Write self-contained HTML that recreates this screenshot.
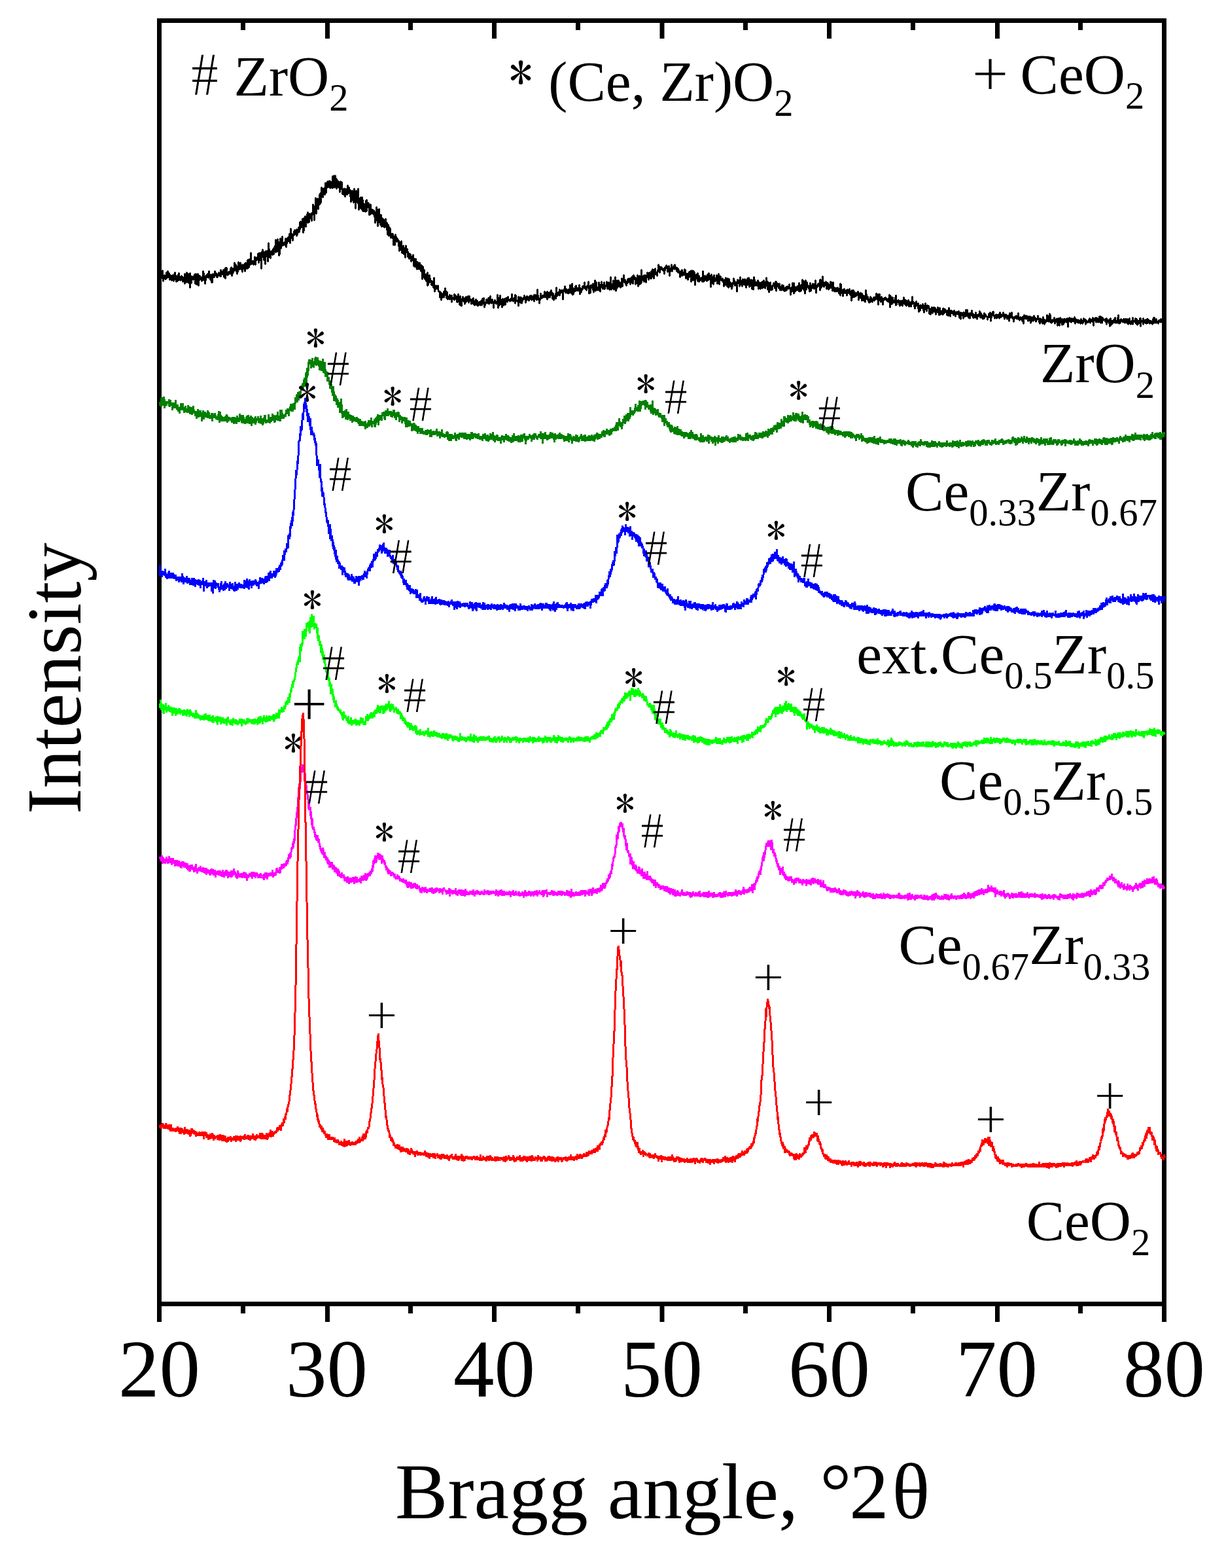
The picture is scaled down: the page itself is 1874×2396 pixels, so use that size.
<!DOCTYPE html>
<html lang="en"><head><meta charset="utf-8"><title>XRD patterns</title>
<style>
html,body{margin:0;padding:0;background:#fff;}
body{width:1874px;height:2396px;overflow:hidden;}
svg{display:block;}
text{font-family:"Liberation Serif","DejaVu Serif",serif;fill:#000;}
text.a{font-family:"IPAGothic","Liberation Serif",serif;}
text.p{font-family:"Noto Serif CJK SC","Liberation Serif",serif;}
.m text{fill:#fff;stroke:#000;stroke-width:1.4px;}
</style></head><body>
<svg width="1874" height="2396" viewBox="0 0 1874 2396">
<rect width="1874" height="2396" fill="#fff"/>
<defs><mask id="hm" maskUnits="userSpaceOnUse" x="0" y="0" width="1874" height="2396"><g class="m"><text transform="translate(499.01,589.25) scale(0.7140,0.7863)" font-size="100">#</text><text transform="translate(624.91,643.15) scale(0.7140,0.7863)" font-size="100">#</text><text transform="translate(1015.16,632.40) scale(0.7140,0.7863)" font-size="100">#</text><text transform="translate(1250.06,657.35) scale(0.7140,0.7863)" font-size="100">#</text><text transform="translate(502.36,750.35) scale(0.7140,0.7863)" font-size="100">#</text><text transform="translate(594.86,876.35) scale(0.7140,0.7863)" font-size="100">#</text><text transform="translate(985.26,862.95) scale(0.7140,0.7863)" font-size="100">#</text><text transform="translate(1223.06,882.15) scale(0.7140,0.7863)" font-size="100">#</text><text transform="translate(492.26,1039.35) scale(0.7140,0.7863)" font-size="100">#</text><text transform="translate(616.21,1088.35) scale(0.7140,0.7863)" font-size="100">#</text><text transform="translate(997.06,1106.25) scale(0.7140,0.7863)" font-size="100">#</text><text transform="translate(1226.16,1102.35) scale(0.7140,0.7863)" font-size="100">#</text><text transform="translate(466.21,1228.40) scale(0.7140,0.7863)" font-size="100">#</text><text transform="translate(607.21,1334.25) scale(0.7140,0.7863)" font-size="100">#</text><text transform="translate(979.16,1295.35) scale(0.7140,0.7863)" font-size="100">#</text><text transform="translate(1196.16,1300.50) scale(0.7140,0.7863)" font-size="100">#</text><text transform="translate(291.99,146.40) scale(0.8387,0.9450)" font-size="100">#</text></g></mask></defs>
<rect x="243.5" y="31.5" width="1536" height="1961" fill="none" stroke="#000" stroke-width="7"/>
<path d="M243.5,35v24M243.5,1996v24M371.5,35v11M371.5,1996v11M500.5,35v24M500.5,1996v24M627.5,35v11M627.5,1996v11M755.5,35v24M755.5,1996v24M883.5,35v11M883.5,1996v11M1012.0,35v24M1012.0,1996v24M1139.5,35v11M1139.5,1996v11M1267.5,35v24M1267.5,1996v24M1395.5,35v11M1395.5,1996v11M1524.5,35v24M1524.5,1996v24M1651.5,35v11M1651.5,1996v11M1779.5,35v24M1779.5,1996v24" stroke="#000" stroke-width="7" fill="none"/>
<path d="M244,422v6l1,-1v-9l1,2v-1l1,5v-3l1,4v-12l1,16v-8l1,4v-4l1,-1v4l1,2v-5l1,1v4l1,-7v-3l1,8v-4l1,-6v5l1,2v-3l1,-1v6l1,4v-5l1,-2v5l1,2v-5l1,4v2l1,-5v-3l1,5l1,4l1,-11v3l1,-1v-4l1,9v2l1,-6v9l1,-2v-1l1,-1v3l1,-10v8h1v-10l1,9v-2l1,4v-5l1,2v1l1,-5v6l1,-3v3l1,-4v7l1,-2v-4l1,4v2l1,3v-15l1,11v-2l1,-2v-4l1,10v-15l1,11l1,4v-13l1,6v-5l1,7v6l1,7v-22l1,5v6l1,4v-5l1,-5v4l1,-1v-1l1,-2v5l1,-1v-2h1v-5l1,4v10l1,-9v-6l1,16v-7l1,7v-9l1,-3v-4l1,12v6l1,-15l1,6v-6l1,2l1,2l1,4v-5l1,4v-6l1,3v-11l1,3v10l1,-6v5h1v7l1,-6v1l1,-5v-3h1v1l1,-3v2l1,2v2l1,-3v-7l1,8v1l1,4v-2l1,-6l1,12v-6l1,5v1l1,-13v5h1h1v-1l1,-1v-7l1,6l1,-3v4l1,-3v5h1v-2h1v-1l1,-4v2l1,-1v4l1,-2v2l1,-9v10l1,-7l1,2v-2l1,4v-4l1,-3v1l1,10v-6l1,-6v6l1,-8v16l1,-16v9h1v-9l1,8v3l1,-3v-1l1,3v-4l1,1l1,-2v3l1,-7v8l1,-7v-3l1,7v6l1,-4v-7l1,6v-6l1,2l1,-11v12l1,-6v1l1,-4l1,2v8l1,4v-8l1,5v-7l1,-8v10l1,1v-4l1,3v1l1,-7v-3l1,6v-1h1v6l1,3v-11l1,6h1v-1l1,1v-7l1,6v5l1,-6v-7l1,6v3l1,-5v-4l1,9v-13l1,8v-3l1,-6v12l1,-5v-7l1,8v-5l1,-13v11l1,4v2l1,-3v-1l1,2v-3l1,6v-5h1v1l1,-8v1l1,11v-6l1,-3v2l1,-4v4l1,-5l1,4v-9l1,14v-10l1,-5v6l1,-1v2l1,-6v7l1,16v-25l1,8v-4l1,2v-10l1,3v8l1,-3v8l1,-12v4l1,14v-19l1,-1v4h1v4l1,-4v-4l1,4v12l1,-7v-21l1,13v-4l1,8v-5l1,11v-6h1l1,-4v-1l1,1v5l1,-4v-5l1,8v-6l1,-1v-4l1,1v-1l1,-11v19l1,-3v-4l1,6v-3l1,-1v-15l1,11v4l1,10v-4l1,2v-18l1,-6v14l1,-3v4l1,-6v2l1,-14v14l1,-5v4h1v-3l1,1v-2l1,4l1,-2v-8l1,1v12l1,-10v5l1,-3v-6l1,-1v4h1v2l1,-11v3l1,2v9l1,-22v15l1,-6v5l1,-6v4l1,6v-7h1v-1l1,-6v6l1,-4v-4l1,3v-1l1,5v-5l1,-3v10l1,-3v1l1,-4v-4l1,-3v1l1,6l1,-5v-10l1,8v-9l1,9v-8l1,-1v7l1,-2v-9l1,13v8l1,-22v19l1,-15v-2l1,3v-8l1,16v-6l1,-7v2l1,-8v6l1,7v-16l1,7v3l1,4v1l1,-11v-2l1,6v-5l1,-1v8l1,3v-10l1,-3v4l1,-16l1,11v-7l1,20v-11l1,-5v-3l1,-15v19l1,5v-15l1,8v-1l1,-15v14l1,2v-8l1,-3v5l1,-16v9l1,5v-16l1,14v-11l1,-12v12l1,-7v7l1,-10v13l1,-13v6l1,-7v1l1,9v-7l1,-5v-6l1,15v-3l1,-8l1,3v-9h1l1,8v-1l1,-8v10h1v-5l1,6v-10l1,1v4l1,-4v5l1,-14v18l1,-15v4l1,-8v14l1,4v-1l1,-1v-16l1,6v2l1,-3v15l1,-6v-1l1,4v-9l1,1v1l1,9l1,2v4l1,-16v6l1,5l1,-10v6l1,11v1h1v-7l1,-1v9l1,-9v5l1,7v-11l1,-1v4l1,4l1,-2v3l1,-14v5l1,7v-6l1,-3v2l1,2v5l1,-5v8l1,10v-11l1,9v-6l1,-9v6l1,-4v12l1,-12v16l1,-5v-16l1,18l1,12v-21l1,12v-18l1,14v-12l1,14v-14l1,-5v20l1,12v-18l1,10v-5l1,-2v6l1,7v-17l1,11v-1l1,-10v19l1,2v-17l1,17v-10l1,-1v11l1,-8v1l1,8v-1l1,-2v-14l1,-1v17l1,-12v7l1,-7v6l1,-6l1,18v-16l1,6l1,9v-15l1,9v-1l1,5l1,-5v5l1,-4v6l1,-3v-3l1,4v3l1,12v-16l1,6v7l1,-21v3h1v11l1,15v-11l1,5v-8l1,-12v1l1,20v-4l1,-8v15l1,-15v16l1,2v-12l1,-1v12l1,-11l1,12v-11l1,12v-4l1,-2v-2l1,7v-12l1,10l1,7v-11l1,18v-11l1,-4v15l1,2v-10l1,-3v6l1,-4v3l1,11v-6h1v1l1,-1v6h1v-6l1,4v13l1,-10v-3l1,13v-11l1,-5v10l1,-7v2l1,6l1,-2v-3l1,2l1,10v-9l1,2v14l1,-13v11h1v-7l1,-6v11l1,1v6l1,-7v6l1,2v-12l1,13v-6l1,-3v2l1,12v-4l1,-14v10h1l1,-1v-4l1,12v-8l1,3h1v8l1,-1v-5l1,-1l1,3v8l1,-4v1l1,-2v1l1,3v-9l1,17v-11h1v12l1,-5v-1l1,-2v-4l1,9v5l1,-9v11l1,-11v3l1,6v-2l1,4v-6l1,-1v-3l1,4v1l1,-1v9l1,-4v-5l1,21v-15l1,-4v15l1,1v-10l1,-1v3l1,11l1,-6v-1l1,4v6l1,-11v5l1,-7v20l1,-1v-3l1,-4v4l1,-12v11l1,-6l1,3v2l1,4v1l1,-1v-5l1,7v-3l1,6v-8l1,-7v9l1,12v-7l1,-2v5h1v-1l1,-4v3l1,1v-3l1,-1v6l1,3h1h1v9l1,-8v3l1,9v-11l1,1v3l1,3v-4h1v-1l1,-4v9l1,-5v-5l1,6v-10l1,5v6l1,-3v7l1,-9v7l1,1v3l1,-1v-3h1v-1l1,5v-7l1,5v-2l1,1v-2l1,9v-10l1,4h1v1h1l1,2v-9l1,6v-5l1,6v-5l1,1v3l1,6v-3l1,-1v4l1,-8v-4l1,6v1l1,5v4l1,-13v14l1,-3v-3l1,-1v8l1,-9v-2l1,3v-6l1,7v-2l1,2l1,-5v9l1,-9v7l1,-9v8l1,-5l1,3v-2l1,-5v4l1,4v2l1,-8v-2l1,5v2l1,-1v-1l1,6v1l1,-1v-6l1,4v-1l1,-5v9l1,-3v-2l1,7v-2h1v1h1v-8l1,3v5l1,-6v2l1,2v4l1,-1v-1l1,-4v4l1,-2v-2l1,5l1,-3v-4l1,7v-5l1,3v-8l1,6v-4h1v-3l1,14v-8l1,1v4l1,-5v2l1,-6v5l1,-2v3l1,-1v-5l1,-2v3l1,6v-1h1v-9l1,-2v7l1,1v-1l1,4v-2l1,-4v1l1,4l1,-1v9l1,-9l1,1v-4l1,2v3l1,1v-3l1,2v-1l1,-7v-5l1,20v-5l1,-4v-6l1,2v9l1,-15v9l1,4v-2l1,2v-3l1,8v-12l1,-1v6l1,4v-6l1,4v-6l1,-2v9h1l1,-7v-3h1v3l1,3v-1l1,-7v6l1,-1h1l1,-1v3l1,-2l1,-3v4l1,-2v-8l1,10v-3l1,4v-4h1v2l1,-1v-2l1,-5v13l1,-12v4l1,4v-1l1,1l1,2v-3l1,9v-14l1,4v-3h1v3l1,5v-8h1v5l1,-1v5l1,-3l1,-3v-2l1,2v-2l1,-4v5l1,-1l1,-1v8l1,-3l1,-5v-2l1,3v2l1,-3v1l1,4v-2l1,-5v2l1,-1v3l1,-5v4l1,3v-3l1,-3v1l1,2v2l1,1v-4l1,-4v10l1,-4l1,-1v-5l1,3l1,2v3l1,-4v-12l1,11v2l1,3v-2l1,7v-4l1,-1v-1l1,-9v8l1,-1v-4l1,4v-1l1,-3v1l1,-1v2l1,-2v3l1,-9v6l1,-5v4l1,4v-2l1,-1v1l1,5v-12l1,10v-9l1,3v3l1,-4v4l1,2v-8l1,5l1,-2v-6l1,7v-3l1,9v-9l1,10v-9l1,10v-6h1v1h1v2l1,1v-8l1,-3v-6l1,9v4l1,-1v-1l1,-3v-1l1,2v2l1,-8v9l1,-8v5l1,-2l1,-2v-1l1,4v-4l1,14v-12l1,-1l1,-2l1,-5v8l1,2v-7l1,6v-5l1,4v2h1v-1l1,-4v6l1,-6v3l1,2v-5l1,-7v11l1,-7l1,-1v10l1,-6v-9l1,12v5l1,-1v-9l1,2v2l1,1v-3l1,-5v7h1v-8l1,4v2l1,-1v2l1,1l1,-1v-3l1,-5v8l1,3v3l1,-9l1,6l1,-4v1l1,-6v5l1,-5v2h1v-1l1,-7v5l1,5v-2l1,-1v3l1,1v1l1,-7v4l1,-2v-2l1,-6v9l1,-3v12l1,-9v-1h1v9l1,-12v3l1,-2v3h1l1,4v-10l1,6v7l1,-9v1l1,-3v-7l1,10v6l1,-7v-6l1,9v-1l1,4v-1l1,-4v2l1,-9v12l1,-4v4l1,2v-8l1,1v-3l1,-5v8l1,1v-5l1,7v-2l1,1v-5l1,-4v10h1v-3l1,-2v1h1l1,-1v-6l1,11v-10l1,5l1,2v-7l1,11v-1l1,-1v2l1,-9v-10l1,15v4l1,-1v-7l1,1v2l1,-9v5l1,-1v10l1,-10v9l1,-6v-12l1,21v-14l1,7v4l1,-10v-3l1,10v-5l1,-5l1,3v6l1,-6l1,4v4l1,-1l1,-1v-12l1,12v-4l1,-2v-4l1,-7v6l1,5v-5l1,1v1l1,6v-5l1,1v6l1,-7v4l1,-7v6l1,-1l1,-3v-3l1,3l1,6v-1l1,-9v8l1,-5v4l1,-4v-5l1,11v-3l1,-7v-3l1,6l1,-3v3l1,4v4l1,-8v7l1,-1v-7l1,-5v11l1,-2v8l1,-4v-3l1,4v-13l1,6v-3l1,9v-5l1,-16v19l1,-10v7l1,-6v3l1,2v-2l1,-5v10l1,-5v-2l1,3v-6l1,11v-8l1,1l1,-6v-2l1,6l1,1v4l1,-4v-7l1,7v1l1,1v-4l1,-7v11l1,-9v5l1,-10v11l1,-8v9l1,2v-3l1,-11v1l1,-2v9l1,-2v-1h1v1h1v4l1,-8v1l1,-10v2l1,3v-3l1,6v4l1,-7v-1h1v3l1,-3l1,4v-1l1,1v1l1,-3l1,8v-9l1,4v-3l1,-3l1,-2v4l1,-3v1l1,8v-7l1,6v-3l1,2v-7l1,4v11l1,-8v1l1,-4v3l1,-9v1l1,7v2l1,-6v1h1v1l1,-5l1,6v-7l1,3v2l1,-1l1,6v-3l1,2v-4l1,1v6h1v-4l1,4h1v7l1,-9v4h1v-2l1,-4v9l1,-2v-1h1l1,-3v5l1,-9v8l1,-7v6l1,7v-7h1v4l1,-3v-1h1v9l1,-4l1,-8v8l1,-8l1,8v-7l1,14v-17l1,13v-1l1,-12v7l1,8v-2l1,-12v5l1,-3v1l1,2v16l1,-13v-1l1,-1v5h1v-7l1,11v-12l1,4v3l1,6v-9l1,3v4l1,-3v3l1,-1v-3l1,2v1l1,-4v7l1,-16v5l1,11l1,-5v-4l1,4v3l1,-7v6l1,-4l1,1v5l1,-10v4l1,4v-8l1,-2v10l1,-2v-1l1,1v-4l1,17v-17l1,2v-4l1,4v9l1,-7v3l1,-5v11l1,-8v-6l1,9v-5l1,5v-2h1l1,-4v-3l1,13v-7l1,2l1,-3v-7l1,4v12l1,-10v2l1,-4v4l1,1v1h1v-2l1,-1v4l1,2v-2l1,8v-6h1v-4l1,8v-9l1,-2v3l1,7v-8l1,11v-6l1,-6v6l1,8v-11l1,-2v8l1,3v-1l1,-5v2h1v4l1,4l1,-9v6l1,-7v3l1,-9v4l1,5v-6l1,8v-6l1,2l1,-1v2l1,4v8l1,-18v6l1,-2v-3l1,5v-5l1,4v5l1,-14v10l1,1v-6l1,7v-2l1,-2v6l1,-11v9l1,-4v-3l1,3l1,4v-9l1,5l1,-1v9l1,-12v9l1,-11v8l1,-2v3l1,-5v-5l1,2v12l1,-5v-4l1,7v-7h1v-2l1,10v4l1,-13v6l1,3v5l1,-19v10l1,3v-9l1,8v-1l1,2v-5l1,4v-4l1,5v-2l1,-2v-4l1,13v-3l1,-1v-6l1,1l1,9v-4l1,-6v3l1,1v-2l1,-3v10l1,-3v-3l1,-6v4l1,3v4l1,-6v7l1,-4v-4l1,-8v7l1,-2v6l1,2v5l1,-6v-5l1,15v-8l1,-3l1,-4v8l1,-1v5l1,-2l1,1v-6l1,-1v2l1,-5l1,5v-1l1,4v-2l1,-8v8l1,6v-14l1,5v3l1,-5v3l1,2v-5l1,6v1l1,-7v5l1,5v-5l1,2v1l1,-4v6l1,-3v-5l1,6v1h1v-6l1,5v3l1,-4v4h1v-5l1,3v-4l1,5v-4l1,-2l1,2l1,2l1,-7v2l1,5l1,-1v10l1,-6v-5l1,3v3l1,-3v-10l1,8v-1l1,9v-16l1,14v-7l1,4v-5l1,2v4l1,-5v4l1,-4v-2l1,1v-1l1,1v6l1,-10v-2l1,7v6l1,-2v1h1v-9l1,4l1,-12v9l1,5v-9l1,-3v4l1,6v4l1,5v-4l1,-13v-3l1,10v4l1,-11v4h1v2l1,-1v3l1,2v-4l1,3v5l1,-13l1,7v5l1,-7v4l1,-6v5l1,-7v6l1,-2l1,4v-1l1,-7v6l1,-11l1,11v8l1,-10l1,-2v3l1,-5v4l1,-4l1,2v-1l1,-7v16l1,-8v-8l1,12v-5l1,2v1l1,-9v-6l1,12v1l1,3v-7l1,2v3l1,-3l1,2v-5l1,11v-10l1,4v-1l1,-2v5l1,3v2l1,-4l1,-4v6l1,-10v6l1,3l1,-7v-1l1,13v-9l1,-4v2l1,6v5l1,-5v6l1,-4v1l1,3v-5l1,3v-3h1v5l1,-6v4l1,-3v3l1,-2v7l1,-4l1,7v-18l1,7v-6l1,11v2l1,1v-2l1,-4v10l1,-5l1,-2v-4l1,6v-3h1v3h1v-4l1,8v-8l1,-1v6l1,-1l1,-2v2l1,-2v-4l1,9v-6l1,3v4l1,-3v11l1,-16v2l1,4v5l1,-6v-5l1,10v-8l1,3v5l1,-6v1l1,4v-3l1,2v-4l1,3l1,-3v-2l1,13v-5l1,2v-7l1,4v-1l1,-4v8l1,-5v2l1,-4v11l1,-3v-1l1,-4v1l1,7v-6l1,3v-1l1,-4v10l1,-18v13l1,-1v-6l1,8l1,-1v-3l1,4v3l1,-3v5l1,-3l1,2v-8l1,1l1,4l1,3v-1l1,-4v1l1,-2v-1h1v5l1,-5l1,3v-3l1,1v-7l1,9v-2l1,2l1,-8v16l1,-9v1l1,-8v9h1v-3l1,2v4l1,-6v-2l1,8v-4l1,-1v9l1,-8v-1l1,1v-2l1,2l1,-3l1,1v3h1v1l1,1v-2l1,2v-4h1v5l1,-11v9l1,10v-18l1,12v-11l1,7v5h1v-9l1,-1l1,8v-4l1,1v2h1v1l1,-1v-7l1,12v-15l1,14v-6l1,1v-1l1,1v1l1,-1v-2l1,7l1,-5v7l1,-6v-2l1,5v1l1,-6v2l1,6v-8h1v4l1,-5v-4l1,3v7l1,1l1,-1v-6l1,7v2l1,-7v6l1,-4v2h1v-6l1,10v-8l1,3v-2l1,4l1,-2v5l1,-4v-2l1,-9v10h1l1,-2l1,5v2l1,3v-3l1,-6v3l1,-5v7l1,-1v-3l1,2v-1l1,-1v7l1,6v-7l1,1v-3l1,-1v8l1,-8v3l1,-2v3l1,-2v2l1,-6v4l1,6v-8l1,1v10l1,-6v2l1,-10v8l1,-5l1,6v3l1,-9l1,2v1l1,2v-4l1,12v-5l1,-3l1,9l1,-9v3l1,3v-8l1,2v7l1,-7v1l1,-3v2l1,5v-5l1,-1v2l1,8v-5l1,-2v2l1,1v-1l1,-6v7l1,-1v3l1,-7v10l1,-7v-4l1,10v-6l1,3l1,-2v4h1v1h1v-9h1v6l1,-4v5l1,-1v-5l1,1l1,1v2l1,3v2l1,-7v1l1,7v-2l1,-2v-8l1,4v4l1,-3v8l1,-5l1,-4l1,1v1l1,1v2l1,-1v3l1,-7v4l1,1l1,4v-6l1,2v-3l1,3l1,-3v1l1,1v2l1,-5v6l1,-3v7l1,-2v-5l1,-1v10l1,-6v1l1,-4v1l1,3l1,-5v9l1,-5v-4l1,6v-3l1,3v-4l1,3v-9l1,9v-6l1,5v-8l1,8v2h1v2l1,-7l1,8l1,-8v1l1,1v1l1,1v-8l1,9v-2l1,-2v6l1,-4v4l1,-2v-2l1,4v-1l1,-3v-4l1,3v4l1,-3v6l1,-4h1v-3l1,2v-2l1,-5v2l1,8v-4l1,1v-4l1,3v4l1,-2v-2l1,6l1,-5l1,4v-8l1,6v-5l1,1v1l1,2l1,1v-1l1,4v1l1,-3l1,-3v-3l1,5v-1l1,2v-8l1,13v-11l1,3v3l1,-7v3l1,-5v2l1,-2v6l1,1v-2l1,5l1,-4v-1h1v-1l1,6l1,-4v-1h1v3l1,-4v3l1,-2v5l1,-1v-8l1,4v3l1,-4v4l1,-1l1,-2v1l1,1v-6l1,2l1,8v-4h1v-1l1,-2l1,5v-4l1,6v-4h1v-1h1v1l1,4v3l1,-12v6l1,1v-4l1,1h1v-5l1,9v-2h1l1,1v6l1,-6v2l1,-4v3l1,-2l1,-2v1l1,3v1l1,-1v-3l1,3v-8l1,10v-3l1,1v3l1,-5v4l1,-3v2l1,-2v2l1,3v-6h1v1l1,2v7l1,-9v-4l1,4l1,-3v3l1,2v-3l1,1v-3l1,5v-2l1,5l1,-7v3l1,1v2l1,-6v4l1,6v-6l1,1v-1l1,-3v6l1,-2l1,2l1,-8v7l1,-3v2l1,-2v-1l1,6v-3l1,-1l1,1l1,-6v4l1,2l1,2v2l1,-6v8l1,-5v1l1,-3l1,5v-4h1v6l1,-1v-9l1,4v1l1,5v1l1,-6v1l1,1v1l1,-4v3l1,-4v-6l1,4v4l1,2v-8l1,1v5l1,-10v12l1,1v-11l1,10v-3l1,5v-3l1,-2v1l1,2l1,-2l1,-4v5l1,-1v5l1,-5l1,-2v4l1,-3v-1l1,6v4l1,-9v-2l1,6v-5l1,10v-8l1,3v-7l1,4v3l1,-2v-3l1,9v-5l1,-3v-1l1,1v7l1,-8v2l1,-2v5l1,-4v3h1v-4l1,4l1,2v-7l1,5v8l1,-11v3l1,-6v5l1,-3v4l1,-2v-3l1,6v-3l1,-3v3l1,-2v3l1,-1v-1l1,3v-5l1,6v-8l1,10v-4l1,-1v-2l1,4v-2h1v3l1,-4v1l1,2v2l1,-4v1h1v2l1,2l1,-7v2l1,1v1l1,3v-4h1v3l1,-7v2l1,1v1l1,1v-3l1,7v-7l1,1v4l1,-1v-2l1,1v1l1,-2v2l1,-4v2l1,-4v2l1,-1v6l1,-4v2l1,-3v2l1,-1v-1l1,4v-7l1,7v5l1,-9v2l1,-4l1,4v-5l1,7v-3l1,-4v1h1v3l1,3v-3l1,-2v1l1,2v-7l1,9v-1l1,-8v10l1,-8v4l1,4v-8h1l1,2v2l1,-1h1v1l1,-2v4l1,-1v-3l1,8v-9l1,6v-4l1,3l1,1l1,2v-6l1,10v-7l1,-3v-2l1,10v-2l1,-4v2l1,2v-4l1,-1v1l1,2v-2l1,-3v5l1,-7v3l1,5v-2h1v-1l1,3v-3l1,-5v6l1,-10v3l1,10v-1l1,-4v1h1v3l1,-5v-1l1,1v2l1,1l1,-2v3l1,-5v3l1,-2v-1l1,6v-4l1,-2v3l1,-3v5h1v1l1,-6v3l1,5v-6l1,4v1l1,-8v7l1,-1l1,3v-4l1,-1v2l1,-3v2l1,-6v10l1,-6v3l1,-1v-1l1,1v-1l1,-4v3l1,5v-7h1l1,9v-2l1,1v-5l1,1v2h1v-3l1,-4v2l1,-2v12l1,-9v1l1,1l1,1v-3l1,-3v9l1,-6h1l1,2v2l1,-5v4l1,-3v5l1,-7v4l1,2v-6l1,4l1,-2v1l1,4v-2l1,-2h1v2l1,2v-1h1v2l1,-8l1,-2v8l1,-8v6l1,2v-6l1,2v1l1,3v-6l1,5l1,-1l1,3v-3l1,-1v-1l1,2v-2l1,2v-1l1,2v-5l1,2v1h1v2l1,-2v3l1,1v-3l1,-5l1,-1" transform="translate(0.5,0.5)" fill="none" stroke="#000000" stroke-width="2.5" stroke-linejoin="round" stroke-miterlimit="3" shape-rendering="crispEdges"/>
<path d="M244,613v5l1,-2l1,4v-11l1,2v-3l1,5v5l1,-4v2l1,-9v8l1,-4v11l1,-4v1l1,-4v3h1v-4h1v1l1,-1l1,1v-1l1,5v-8l1,9v-5h1v-3l1,5l1,1v-2l1,2v7l1,-5v-4l1,6l1,-4v3l1,1v-4l1,-6v6l1,4v-3l1,3v2l1,-5v6l1,2v-2l1,1l1,4v-7l1,-1v3l1,-6v-2l1,3v4l1,1v-7l1,-1v6h1v1l1,3v2l1,-3v1l1,-6l1,5v2h1l1,1h1v-9l1,4v4l1,1v-7l1,9v-5l1,1v2l1,2v-8l1,9v-3l1,-3v2l1,-7v6l1,3v-3l1,2l1,1v4l1,-4v-1l1,4v5l1,-8v4l1,-8v10l1,-2v2l1,-4v-4l1,7l1,-6v-1l1,6l1,-2v10l1,-11l1,2v-5l1,2v9l1,-6v-1l1,-2v6h1v-1l1,-2v2l1,1v-4l1,5v-9l1,2v4h1v-3l1,5v2l1,-1v-1l1,2v-1l1,-5v3l1,7v-10l1,4v-1l1,-2l1,3v1h1v-5l1,3l1,2v2h1l1,1v-1l1,-5v3l1,-2v-6l1,3v12l1,-10v-4l1,6v6l1,-5v2l1,-2v1l1,4v-1l1,-3v3l1,1v-4l1,1l1,-2v5l1,-4v-2l1,-2v1l1,9v-8l1,6v-3l1,2v1l1,-4l1,1v1h1l1,-1v3l1,2v-2l1,-4v4l1,-1v1l1,4v-6h1v-2l1,2v-1l1,6v-4l1,-2v7l1,-10v7h1v-1l1,-2l1,-1v4l1,-10v6l1,2v-2l1,-4v5l1,-2v6l1,1v-4l1,-6l1,5v-2l1,4v3l1,-4v5l1,-1v-1l1,-6v3l1,-5v8l1,-3v4l1,-3v-7l1,8v1l1,2v-8h1v3l1,-5v1l1,1v11l1,-10v-1l1,2v1l1,4v-1l1,-1v-2l1,1v-3l1,-2v10l1,-7v4l1,-4v1h1l1,-4v4l1,2v1l1,-1v2l1,-3l1,-6v4l1,6v-4l1,2v-3l1,-1v8l1,-5v3l1,-3v-2l1,-6v7l1,-5v-2l1,10v-1h1v-2h1v1l1,-1l1,2v-10l1,10v-5l1,5v1l1,-7v5h1l1,-5v1l1,2v-8l1,6v1l1,-2v-3l1,3v6l1,-1v-4l1,-3v3h1v-4l1,2v3l1,1v-11l1,11v-3l1,3v-4l1,1v4l1,-15v15l1,-5v-7l1,-3v10l1,-5v6l1,-2v-2l1,4v-3l1,1l1,-2l1,1l1,-8v4h1v-2l1,-4v3l1,3v-1l1,4v-8h1v-1h1v-2l1,-5v7l1,2l1,-9v2l1,7v-8l1,1v-3l1,4v1l1,2v-8l1,-1v-7l1,2v-2l1,1v-5l1,9v-10l1,4v-7l1,6v4l1,-11l1,4v-3h1l1,-6v1l1,-3v-2l1,-3v8l1,-9v5l1,-2v-8l1,8v-11l1,6v2l1,-12v-3l1,-2v15l1,-15v-6l1,9v-6l1,-1v-10l1,-5v4h1v-4l1,2l1,9v-1l1,-1v-7l1,-4v8l1,2l1,2v-6l1,-1v2l1,-7v1l1,7v-10l1,6v5l1,-3v1l1,-8v5l1,-1v5h1v-2l1,10v-7l1,-4v-1l1,3v-2l1,12v-5l1,-4v-1l1,-6v9l1,9v1l1,-7v2l1,-9v15l1,-4v9l1,-6l1,4l1,-3v12l1,-4v1l1,1v-2l1,6l1,9v-7l1,3v-2l1,2v2l1,8v-4l1,9v-7l1,1v-6l1,13v7l1,-8v8l1,-1v-5l1,7v-6l1,4v7l1,-3v-4l1,11v-9l1,5l1,1v-1l1,-2v14l1,-10v1l1,-10l1,15v5l1,1v6l1,-1v-6l1,-1v6l1,-5v1l1,-3v4l1,7v-6l1,2v-9l1,13v-3l1,4v-4l1,-3v-3l1,8v-1l1,-3v4l1,-2v5l1,-4v-2l1,4v-1l1,6v-5l1,-3v4h1v2h1v-4l1,4l1,-1v-2l1,2v2l1,-5v2l1,1v2l1,2v-5l1,5v1l1,3v-5l1,-2v-1l1,6v2l1,-5v3l1,2l1,-3v3l1,-2v-2l1,4l1,-4v4l1,5v-10l1,7l1,-2v1l1,-2v4l1,-6v2l1,-5l1,7v-1l1,-6v2l1,3v-3l1,-2v-4l1,8v4l1,-7v2h1v-2h1l1,-3v9l1,1v-8l1,4v-8l1,2v3l1,-7l1,4v-7l1,14v-7l1,-1v1l1,-6l1,5l1,-3v-1l1,-1v6l1,-10v2l1,1l1,-4l1,1v7l1,2v-5l1,-7v2l1,2l1,-1v3l1,-9v5l1,2v2l1,-2v-1h1v-2l1,2v-1l1,-1v6h1v-5l1,4v2l1,-3v-1l1,2v-7h1v7h1v3l1,-6v6h1v3l1,-9l1,2v2h1v-5l1,3v-2l1,12v-7l1,1v-2l1,2v3l1,-3v1l1,7v-3l1,-2v-1l1,1v-2l1,4v-3l1,-1v3l1,-2v5l1,7v-10l1,-2v8l1,-2v6l1,-4v2l1,-4v-2l1,4v3l1,-4v-2l1,3l1,1v1l1,1v7l1,-6v-2l1,-1v6l1,-7v9l1,-4v-4l1,5l1,4v-7l1,4l1,4v-6l1,1v8l1,-4v-5l1,6v-3l1,1v-1l1,6v-4l1,2l1,-4v2l1,4v-6l1,5v-1l1,2v1h1v-2l1,1l1,-3v1l1,4v-4l1,4l1,-6v5l1,-4v3l1,-3v3h1v-3l1,8v-3l1,-6v5l1,-2v6l1,-5v1l1,-2v3l1,-3v-1l1,1l1,3v-1l1,-2l1,-1v3l1,-6v5l1,4v-5h1v2l1,-2h1v4l1,-3v7l1,-4v-1l1,-2v1l1,-5v7l1,2v-1l1,-2v3h1v-2l1,1v2l1,-1v-2l1,1l1,-4v5l1,-1v-5l1,1v9l1,-4v3l1,-4v7l1,-4v-4l1,3v3l1,2v-4l1,-3v-1l1,4l1,1v-2l1,-1v2h1v-1l1,-5v3l1,6v-5l1,6v-5l1,-2v2l1,1v-4l1,3v-2l1,5v-5l1,1v-4h1v3l1,-2v2l1,1v1l1,-5v3l1,2v-3l1,-2v2l1,5v-4l1,4v-5l1,4v-6l1,2v1l1,5l1,-4v2l1,-4l1,4v1l1,-1l1,-4v7l1,-5v3l1,-2v-6h1v1l1,4v3l1,-4v3l1,-5v1h1v2l1,-3v3l1,2v-3l1,-1v1l1,-1l1,5v-1l1,-5v3l1,2v1h1v1l1,-3h1l1,3l1,2v-2l1,-4v-2h1v1l1,4v-5l1,-1v4l1,3l1,2v-4l1,-2v1l1,-2v1l1,5v2l1,-2v-2l1,-2v2l1,-6v7h1v-2h1v-4l1,6l1,-9v6l1,2v3l1,-6l1,2v6l1,-4v-2l1,-1v2l1,-4v6l1,-5v4l1,1v1l1,-3l1,1v-1l1,3v-3l1,5v2l1,-8v2l1,-4v5l1,-1v-1l1,-2v2l1,5v-1l1,-3v-2l1,2v-2l1,-4v3l1,4v-1h1v-3l1,-1v6l1,-3l1,4v-5l1,4v-2l1,-1l1,6v-3l1,-3v1l1,-4v8l1,-1v-4l1,2v-8l1,9v-1h1v1l1,-1v-4h1v2l1,3v-2l1,-2v2l1,-4v8l1,-4v-3l1,3v2l1,-2v4l1,-9v8l1,-4v2l1,2l1,-8l1,2v-3l1,-1v5l1,3v-4l1,2v8l1,-8v-2h1v2l1,-2v2l1,-1v2l1,-2v-1l1,-2v-1l1,3v-1l1,2v-1l1,-1v7l1,-5v2l1,-5v5h1v-2l1,-5v7l1,-5v-2h1v4l1,-1l1,3v-1l1,2v-2l1,-1l1,-2v-1l1,1v2l1,-3v2l1,3v-9l1,4l1,2v-3l1,2v11l1,-13v3l1,1v-1l1,-3v6l1,-8v3l1,2v-1l1,4v-4l1,6v-5l1,4v-3l1,-1l1,3v-4l1,1v-2l1,-3l1,7l1,-5v5l1,-2v-4l1,2v4l1,1v-1l1,6v-7l1,-2v-2l1,7v-4h1v-1h1v1l1,2h1v1l1,-3v-2l1,3v-5l1,7v-1l1,1v-5l1,2v1l1,-2l1,2v1l1,-2v4l1,3l1,-4v-2h1v5l1,-3h1v-2l1,5v-4l1,1v-6l1,11v-4l1,-2v-2l1,1v-3l1,6v-4l1,4l1,6v-7h1v1l1,-3v1l1,2v2l1,-1v-3l1,4v-4l1,-3v8l1,-4v-1l1,-2v2l1,5l1,-4v5l1,-5v3l1,-3v-1h1l1,-4v2l1,4v2l1,-3l1,-2v5h1v-6l1,3v-1l1,-3v8l1,-1v-2l1,2v-4l1,2v2l1,-4v2l1,-3v4l1,1v-6l1,1v2l1,3v-4l1,-1v1l1,3v-6l1,3l1,4v-4l1,-1v3l1,-5v8l1,-4v-2l1,1v-1l1,-1v-2l1,2v-4l1,8v-7l1,1l1,4v-3l1,4v-5l1,1l1,-1v3h1l1,-7v4l1,-4l1,-2v2l1,4v2h1v-7l1,1v2l1,-1h1v-5l1,4v2l1,-1v-1l1,-2v1l1,5v-3l1,1v1l1,-7v4l1,-1v3l1,-5l1,-2v2l1,-1l1,1v-2l1,-2v1l1,-1v2l1,2v-5l1,-6v8l1,-2v-3l1,1v6l1,-10l1,3v-9l1,7l1,4v-1l1,-2v-2h1v8l1,-8v3l1,-8v4l1,-1v-1l1,-7v5l1,5v-3l1,-5v5l1,-9v7l1,-1v-4l1,-1v-3l1,4v6l1,-3v-2l1,1v-6l1,3v-12l1,8v-1l1,1v-1l1,2v-4l1,5v-5l1,3v-3l1,2l1,-2v-4l1,2v-8l1,7v1l1,-3l1,4h1v-7h1v4h1v-11l1,14v-4l1,-9v9l1,-7v1l1,-3l1,2v1l1,-4v4l1,-3v1l1,-1v1l1,9v-12l1,1v5l1,-1v-2l1,6v-6l1,5l1,4v-2l1,-2v1l1,1v2l1,-5v8l1,-1v4l1,-4v1l1,-14v10l1,9v-5l1,-3v4l1,-1v1l1,-3v5l1,3v-3l1,1v-4l1,5v-3l1,-3v4l1,1v3l1,2v-3l1,-1v4l1,-4v2l1,1v1l1,-1l1,8v-2l1,-3v-3l1,3v4l1,-7v14l1,-7v1l1,2v-5l1,5l1,3v-4l1,5v2l1,-1v-2h1v-2l1,4v3l1,4v-1l1,3v-7l1,1v-3l1,3v-1l1,3v3l1,-2l1,3v2l1,-1v-7l1,9v-5l1,-3l1,3v4l1,-9v11l1,-3v1l1,-5v2l1,-1v6l1,-5v4l1,-3v-2l1,6v1l1,1v-5l1,2v2l1,-1l1,5v-7l1,4v-4l1,5v-4l1,-1v4l1,-1v-1h1v-1l1,3l1,4v-6l1,5v-2l1,-5l1,8v-8l1,6v-9l1,8v-1h1v-4l1,3v5l1,-1v-2h1v-1l1,6v-4l1,3v-6h1v7l1,-5v1l1,2v1h1l1,2v-3l1,2v-2h1v5l1,-6v-5l1,6v1l1,4v-6l1,-2v4l1,4l1,-5v4l1,-2l1,-3v2l1,-2v2l1,-2v5l1,-4v1l1,-5v3l1,8v-7l1,-3v4h1v-1l1,1v-1l1,4v-5l1,3v2l1,-4v7l1,-5l1,-2v4l1,-6v5l1,7v-7l1,1v-4l1,4v-4l1,1v1l1,5l1,-6v-4l1,5v2h1v-1l1,2v-1h1v-3l1,-2v7l1,-6v5h1v-6l1,2v2l1,1v-4l1,1v-1l1,-1v3l1,-1v-4l1,6v-2h1v-2l1,5v-1h1v-1l1,1v3l1,-3l1,-2v3l1,-2l1,-2v5l1,-3v-2h1v1l1,-2v6l1,-2v-4l1,6v-4l1,1v-1l1,2h1l1,-8v5l1,1l1,-3v2h1v-4l1,3v3l1,-3v1h1v2h1v1l1,-3v1l1,-1h1v2l1,1l1,-7v-2l1,7v-3l1,-5v9l1,1v-7l1,1h1v2l1,-3v3l1,-1v3l1,-3v3l1,1v-3l1,1v-3l1,1v5l1,-2v-3l1,-2v1l1,3v-8l1,6v-5l1,7v-7l1,6v-3h1v4l1,-4v2l1,-1v-4l1,2l1,3v-2h1v-3l1,6v-6l1,6v-4l1,1v-5l1,4v-3l1,2v3l1,-2v-1l1,2v-6l1,3v-2l1,5v-5l1,6v1l1,-11v5l1,-4v7l1,-7v5l1,-1v-4l1,-2v7l1,-5v2l1,3v-4l1,-2v-2l1,4l1,-4v-3l1,3v-1l1,-3v3l1,3l1,3v-3l1,-3v-7l1,6v2l1,-4v4l1,-7v3l1,1v2l1,-5v5l1,-7v-5l1,5v4l1,-6v6l1,-6v6l1,-13v13l1,-13v6l1,-4v4l1,-2l1,2v1l1,-4l1,5v-10l1,2v-1l1,5v2l1,-5v-1l1,-2v6l1,1v-5l1,1v-1l1,1v2l1,-9v4l1,6v-6l1,7l1,-7l1,7v-10l1,2v-2l1,5v1l1,1v-1l1,-5v8l1,-4v-1l1,7v-5h1v2l1,4v-7l1,3l1,-10v5l1,10l1,-7v-2l1,-1l1,3v-4l1,6l1,-3l1,-2v5l1,1v3l1,-7v4l1,2v1l1,3v-5l1,5v4l1,-6v4l1,-2v-1l1,-2v2l1,6v-6l1,-2v1l1,4v-4l1,5l1,-2l1,5v-9l1,3v1l1,2v-5l1,3v6l1,-5v4l1,-3v-1l1,4v2l1,-4v-3l1,2v1l1,1v-2l1,5v-5l1,6v-5h1v6l1,-1v-2l1,-1v2h1v1l1,3v-5l1,2v1l1,-4v7l1,2v-5l1,-4l1,2v5l1,-8v1l1,4v3l1,1l1,-9v5l1,-1v-1l1,6v-1l1,-3v3h1v3l1,-5v3l1,-3v3l1,-1v1l1,-1v4l1,-5v-1l1,1v3l1,1v-2l1,-2v1h1v3l1,-1h1l1,3v-4l1,2h1v-3l1,7v-4l1,-3v5l1,-1v1l1,-3l1,2v-4l1,4l1,2v-3l1,2v-5l1,1v5l1,2v-1l1,-6v1l1,1v5l1,-5v3h1l1,-1v1l1,2v-2h1v2l1,2v2l1,-8v3h1l1,-3v3l1,-1v-2l1,2v4l1,-4v1l1,1v-2h1v-3l1,4v6l1,-7v6l1,-4l1,4h1v-1l1,2v-3l1,2v2l1,-3v-1l1,6v-5l1,-1v3l1,2v-2l1,-4v3l1,1v1l1,-5l1,4l1,-1v2l1,1v-6l1,1v1l1,5v-4l1,3v-8l1,6v2l1,1v-5l1,6v-6l1,5v1l1,-4v-3l1,8v-4l1,-4v4l1,-3v3l1,-5v-1l1,7v-3l1,1h1v-1l1,2v1l1,-1v-1h1v4l1,-1v-3l1,2l1,1v-1l1,-1v1l1,-2v2h1h1l1,-3v-1l1,3v-1l1,3v-3h1v-2l1,3v-1l1,4v-3l1,3v-4l1,-2v6l1,-2v3l1,-5v-2l1,7v-3l1,-2v6l1,-4v-2l1,3v-2l1,-1v3l1,-1h1l1,-3v5l1,2v-3l1,2v2l1,-5v-1l1,-1v1l1,3v-2l1,3v-4l1,5v-4l1,1h1l1,1v-1l1,1v-2h1v-2l1,5v-3l1,3v-1h1v-1l1,2l1,2v-3l1,-1v-1l1,7l1,-6v3h1v-4l1,1v3l1,-2v-2l1,3v3l1,-3v1l1,1v2l1,-4v-2l1,1l1,-2v2l1,-1v4l1,-3v-5l1,3v3l1,-2h1l1,3v-2l1,-1v3l1,-4v3l1,-2v1h1v-2l1,1v5l1,-6l1,7v-3l1,2v-4l1,3v-2l1,4v-5l1,4v-4l1,4v-4l1,-3v1l1,2v4l1,-6v1l1,2l1,1v2l1,-3v-3l1,5v-3l1,1l1,4v-1l1,-3l1,1v-2l1,-2v2l1,3v-3h1v4h1l1,1v-5l1,2v2h1v-3h1v-1h1v3l1,-1v-2l1,3v-1l1,2v-4l1,2v-5l1,6h1v-1h1v-1l1,3v-4l1,1v2l1,-2v-1l1,1v1l1,3v-4l1,-4v7l1,-2v1l1,-2v1l1,-4l1,5v-4l1,4v-5l1,6v-3l1,-4v5h1l1,-3v7l1,-6v3l1,-7v7l1,-1v-1l1,3v-4l1,2v-1l1,1v-3l1,4v-1h1l1,-2l1,1v1l1,-4v3l1,3v-2l1,-3v4l1,-6v3l1,3v-1h1l1,-3v-2l1,5v-1l1,3v-5l1,-1v1l1,-2v3h1l1,4l1,-4v-1l1,4v-1l1,-5v2l1,-2l1,2v-2l1,4l1,-5v2h1v5l1,-5v4l1,1v-5l1,3v-1l1,1v-4l1,2v-3l1,5l1,-6v4l1,-3v2l1,-1v2l1,1v2h1v-3l1,-2v5l1,-6v3l1,-2l1,2v-3l1,3l1,2l1,-1v-1l1,3v-1l1,-5v3l1,1v-3l1,2v-1l1,-1v2l1,-2v-1l1,2v-4l1,7v-3h1l1,2l1,-2v1l1,1v1l1,-5v3l1,-3l1,2v-1l1,-2v1l1,1v-3l1,4v-3l1,6v-3l1,1v-2l1,3v-1h1v-1l1,1v-2l1,2v-3h1v1h1l1,-2v1l1,3v-2l1,1v-2l1,4v-4l1,2l1,-1v2l1,-6v-1l1,4v-5l1,4l1,1v2l1,-5v5l1,1v3l1,-8v1l1,6v-7l1,5v-2h1v-5l1,1v1l1,3v1l1,-4v3l1,-1v-2l1,-1v-2l1,2v1l1,5v-1l1,-3v1l1,-2v-4l1,6l1,1v-3l1,4l1,-1v-6l1,5v1l1,-4v1l1,3v3l1,-3v-1l1,-2v-1l1,1v2l1,-2v5l1,-7v1l1,2v1h1v-3l1,1v4l1,-3l1,2l1,-1v4l1,-7v4l1,-2v3l1,-4v4l1,-3l1,7v-5l1,4v-6h1v2l1,-5v2l1,6v-1l1,-3v3l1,-1l1,-4v5l1,-4v5l1,-6v8l1,-7v-1h1v4h1v-4l1,5v2l1,-4v2h1l1,-6v8l1,-4v1l1,2v-8l1,7v-1l1,3v-2l1,2l1,-1v-5l1,3v-2l1,2v-2l1,-1v3l1,-1v2l1,3v-5l1,1v3l1,-1v-5l1,3v-3l1,1v1l1,1l1,1l1,3v-2l1,-4v5l1,-2v-3h1v2l1,1l1,-4v3l1,5v-8l1,1v3h1l1,-2v2l1,-1v-1l1,1l1,1v1l1,-4v2l1,-2v2l1,1v2l1,-4v3l1,-2h1v-1l1,2v-5l1,5v-2l1,5v-5l1,2v1h1v2h1v-4l1,-1v5l1,-3v-1l1,1v1h1v-6l1,3h1v-1l1,6v-1l1,-3v4l1,-4v4l1,-2v-1l1,1v-2l1,3v-3l1,2v-3h1v2h1v2l1,-3v1l1,1v3l1,-4v-3l1,-1v3l1,1v-3h1l1,2v1l1,-3l1,5v1l1,-3v-2h1v2l1,-5h1v6l1,-6v2l1,6v-5l1,4v-4l1,-2v4l1,-2v2l1,-5v5l1,-1v1l1,-1v-3l1,5v-1l1,2v-2l1,-1v-2l1,-3v1l1,3v-5l1,4v3l1,-4v6l1,-8v6l1,-6v5l1,3v-5l1,-2l1,4l1,1v-1l1,-2v-2l1,1v-1l1,-1v6l1,2v-2l1,1v-5l1,-3v4l1,-1v-2l1,4v-3l1,3v-1l1,-3v2l1,-1v2l1,-1v-3l1,4v-2h1v1l1,4v-4l1,-1v-2l1,-2v4h1v-2l1,3v-1l1,1l1,-2v4l1,-3v-3l1,2v2l1,-4v5l1,-4v-4l1,6v-4l1,3v-1l1,3v-3l1,2v-4l1,2v-1l1,1v5l1,-7v3l1,-2v2l1,-3l1,-3v7l1,-3v1l1,-4v7l1,-1v-4l1,2v-2l1,3v-8l1,6l1,2l1,-5v1l1,-1v5l1,-1v1l1,-1l1,-4v2l1,4v-3l1,-3l1,1v1h1l1,1v2l1,-1v-5l1,8v-6l1,-1v5h1v-2l1,2v-4h1v-2l1,5v-2l1,4v-5l1,3v-2l1,4v-5l1,4l1,-6v1h1v4l1,-8v2l1,4v-1h1v1l1,-2v3l1,1v-6l1,6v-6l1,-1v3h1v1l1,-4v3l1,-1v4l1,-3v-2l1,-1v3l1,5v-9l1,2v7l1,-3v-3h1v-1l1,-1v2l1,2v-1l1,-4l1,3" transform="translate(0.5,0.5)" fill="none" stroke="#008000" stroke-width="3.0" stroke-linejoin="round" stroke-miterlimit="3" shape-rendering="crispEdges"/>
<text transform="translate(467.46,538.57) scale(0.5976,0.5860)" font-size="100" class="a">*</text>
<text transform="translate(454.56,621.72) scale(0.5976,0.5860)" font-size="100" class="a">*</text>
<text transform="translate(585.26,628.22) scale(0.5976,0.5860)" font-size="100" class="a">*</text>
<text transform="translate(972.26,609.02) scale(0.5976,0.5860)" font-size="100" class="a">*</text>
<text transform="translate(1205.66,618.97) scale(0.5976,0.5860)" font-size="100" class="a">*</text>
<g mask="url(#hm)"><text transform="translate(499.01,589.25) scale(0.7140,0.7863)" font-size="100">#</text><text transform="translate(624.91,643.15) scale(0.7140,0.7863)" font-size="100">#</text><text transform="translate(1015.16,632.40) scale(0.7140,0.7863)" font-size="100">#</text><text transform="translate(1250.06,657.35) scale(0.7140,0.7863)" font-size="100">#</text></g>
<path d="M244,880v-16l1,13v-3l1,4v-3l1,5v-6l1,-1v3h1v-2h1v3l1,1v-4l1,1v-5l1,11v-5l1,5v-3l1,5v-1l1,-4v4l1,-7v7l1,-9v6l1,3v-3l1,-1v-2l1,2v4h1v-3l1,-3v6l1,-6v3l1,-1l1,5v-2l1,1l1,-3v4l1,3v-4l1,2v-2l1,3v-1l1,1v-1l1,4v-6h1l1,3v-3h1v4l1,2v-2l1,-9v5h1v-1l1,3v7l1,-6v-2l1,5v-2h1v-2l1,2v2l1,-7v1l1,8l1,-1v-4l1,-1v3l1,-3v2l1,6v-4l1,3v-4l1,2v3l1,-8v2l1,2v1l1,4v-3l1,-6v4l1,-2l1,9v-9l1,3v-2l1,4v-1l1,-1l1,3v-5h1v-1l1,7v-4l1,-2v1l1,9v-8l1,3l1,-1v-1l1,-2v1h1v-5l1,18v-9l1,-2v-1l1,-1v5l1,-3v2l1,-6v6l1,4v-6l1,3v-2l1,3l1,-3v-1l1,2l1,-2v3h1v-3l1,2v9l1,-6v-2l1,11v-13l1,-5v2l1,1v5l1,2v-9l1,10l1,-7v4l1,1l1,-1l1,-3v4l1,2l1,5v-5l1,-1v3l1,-4v-4l1,-3v10l1,-2v1l1,-3v2l1,4v-4l1,-4v2l1,5v-7l1,-4l1,3v6l1,-2v-2l1,-2v4h1v-1h1v-1l1,7l1,-11v7l1,-4v5l1,-2v1l1,1v-1l1,2v-7l1,7v-3l1,1v4h1v1l1,-12v4l1,5v-6l1,3v5l1,-2v-6l1,4v2l1,-3v-1l1,1v-5l1,5v-3l1,4l1,-4v4l1,-1v-1l1,2v-3h1l1,1v-1l1,4v-11l1,6v-5l1,4v2h1v2l1,-2v-9l1,5v7h1v-4l1,-5v11l1,-13v7l1,-1v1l1,-4v2l1,6v-7l1,-2v4h1v-1l1,-2v4l1,-2v-3l1,3h1v-5l1,2v4l1,2v-3l1,-1l1,2v1l1,5v-7l1,-3v3l1,-8v6l1,-1v1l1,1v-1l1,-5v3l1,-1v2l1,1v-4l1,4v2l1,-5v3l1,-7v3l1,4v-8l1,3v-2l1,6l1,-6v2l1,-8v10l1,-2v2l1,-11v7l1,-2v-7l1,5l1,1v3l1,-2v-3l1,2v-2l1,-2v-2l1,3l1,5v-8l1,6v-5l1,2v-7h1v1l1,3v-3l1,1v-2l1,3v-5l1,-3v2l1,-2v5l1,-8l1,-2v4l1,-2v-2l1,-8v-2l1,4l1,2v-13l1,4l1,-7l1,1v2l1,-8v-3h1v3l1,2v-17l1,2v-3l1,4v-6l1,2v-13l1,1v-4l1,-6v2l1,-7v11l1,-10v-9l1,-2v5l1,-15v-3l1,-10v-6l1,-9v-9l1,-6v-9l1,5v-3l1,-7v-4l1,-12v9l1,-22v-10l1,-2l1,-2v1l1,-20v12l1,-11l1,2v-7l1,-13v-2l1,7v-7l1,-6v-9l1,3v-5l1,-5v-2l1,11v1l1,7v-8l1,14v-8l1,17v-6l1,-5l1,7v1l1,9v-7l1,-2v10l1,13l1,-10v4l1,5v-3l1,4l1,2v-3l1,4v3l1,6v-5l1,9v-4l1,4v1l1,30v-11l1,5l1,-1v5l1,4v4l1,5v7l1,-18v15l1,10v-2l1,4v12l1,-3v11l1,-5v4l1,-2l1,10v6l1,1v-1l1,11v1l1,2v-1l1,13l1,2v-3l1,1v4l1,8v6l1,-9l1,-3v20l1,-13v9l1,1v6l1,-6l1,9v4l1,5v-8l1,7v3l1,-2v6l1,6v-2l1,-6v11l1,5v-2l1,2v-7l1,9v1l1,-2v2l1,-1v8l1,-5v-1l1,5v1l1,2l1,-4v1l1,5v6l1,-5v-5l1,6v-2l1,-3v4l1,1v4l1,3h1v-4l1,3v-1l1,5v-6l1,1v7l1,-3v-3l1,3h1v3l1,-1v-2l1,-1v-3l1,4v5l1,-2v-3l1,2v-2l1,3v5h1l1,-2v-1l1,-3v-3l1,3v-1l1,4v-2l1,-3v3l1,8v-12l1,6v-2l1,-2v-2l1,2v1l1,1l1,-1v-4l1,3v-2l1,-2v5l1,-5v-2l1,3v-7l1,5v1l1,-4v2l1,5v-3l1,-3v-2l1,-4l1,-2l1,1v-1l1,-4v7l1,-9v3l1,1v-4l1,-4v2l1,5v-5l1,-5v2l1,-3v-7l1,7v1l1,-1v-5l1,-5v8l1,-6v2l1,1v-4l1,-2v-3h1v1l1,-2v2l1,-8v3l1,3v-3l1,1v-3l1,7v3l1,-10v8l1,-10l1,6v-8l1,10v-2l1,1v5l1,-2v-1l1,-3v4l1,-2v2l1,7v-1l1,-2v2l1,-7v6l1,-6v5l1,4l1,2v-1h1v1l1,5v1l1,-9v6l1,5v-5l1,3v-2l1,-1v5l1,-1v3l1,-4v2l1,5h1v4l1,-4v7l1,1v-1l1,3v-2l1,1v2l1,-3v4l1,4v-6l1,7v-3l1,2v2l1,2v4l1,-4v7l1,-4v2l1,1v-3l1,-1v5l1,2v1l1,-3v7l1,-4v-1l1,6l1,-5v6l1,-6v5l1,6l1,-2v-1l1,1v-4l1,4l1,-3v4l1,1v-1l1,1v-1l1,-2v3l1,-5v4l1,5v2l1,-3v-7l1,10v-1l1,-2v3h1v-3h1v7l1,-9v8h1v2l1,2v-1l1,1v-2h1v1l1,-2v-2l1,2v-4l1,3l1,7v-4l1,-2v-1l1,-3v4l1,-1v2h1l1,-4v8l1,-2v-1l1,-1v2l1,2v-1l1,-5l1,-3v7l1,1v1l1,-2v2l1,-5v4l1,-2v-1l1,-2v7l1,-9v8l1,-4v4l1,-3v3l1,-2v-2l1,1l1,-2v4l1,2v-1l1,-1v3l1,-6v5l1,-2v-1l1,3v-4l1,2v2l1,-4v2l1,2v1l1,-4v4l1,-2v1l1,-2v3l1,-3v2l1,1v1l1,-5v5l1,-2v4l1,-5l1,1h1v-3l1,-2v2l1,2l1,3v-2l1,-2v3h1v7l1,-4v-2l1,-4v3h1v2l1,4v-6l1,-4v4l1,-3v6h1v-1l1,-5v3l1,4v-5l1,1v2h1v-1l1,1l1,-2v1l1,1v-3l1,3l1,1l1,-4l1,3v-1l1,1l1,-1v-2l1,4v-1l1,2v2l1,-1l1,-5v-3l1,4v-2h1v5l1,-6v7h1v4l1,-4v2l1,-6l1,4v-6l1,6v-3l1,-4v9l1,-7v9l1,-10v2l1,2l1,-4v4h1v1l1,-5v2l1,2l1,2v-2l1,-1l1,5v-6l1,3v-6l1,9v-3l1,-5v6l1,2v-2l1,-1v1l1,-3v1h1v1l1,-3v6l1,-4v-2l1,2v2l1,-1v2l1,-3v-1l1,3v2l1,-5v-2l1,2v2l1,-2v2l1,-2v4l1,-5l1,1v2l1,2l1,-4v2l1,2v2l1,-6v-1l1,4v-1l1,3v-3l1,1v-3l1,3v2l1,-3v-3l1,5v-2h1v-1l1,4v-5l1,1v1h1v-5l1,6v-4l1,4v-2l1,1v-2h1v3h1v2l1,-1v-3l1,4l1,3v-4l1,-2v-2l1,2v-3l1,5v-3h1v2l1,-4v-1l1,3v4l1,-6v5l1,-6v4l1,1v4l1,-9v4l1,-2v3l1,-2v2l1,-2l1,2v3l1,-3l1,-1v4l1,-8l1,3v3l1,1v-1l1,1l1,-2v-1l1,-1v3l1,-3v3l1,1v-3h1l1,3v-1l1,-2v2l1,3v-3h1v-2l1,-1v2h1l1,3v-3h1v1h1v-5l1,5v2l1,-6v4l1,-2v-2l1,3v-1l1,-4v3l1,3v-3l1,-1l1,1l1,3v-4l1,-1v4l1,1v-1l1,1v-4l1,-2v2l1,1v-4l1,4v2l1,-3v6l1,-3v-5h1v1l1,4v-1l1,-2v1l1,2v-1l1,-5v1l1,1v-2l1,6v-3l1,-1l1,3l1,1v1l1,-5v6l1,2l1,-7l1,3v1l1,-4v-1l1,7v-7l1,-4v7l1,1v2l1,3l1,-8v-1l1,-1v7l1,-5v-3l1,-1v5l1,-1v2l1,-3l1,3v-1l1,1v-1l1,-1v2l1,-2v2h1v-2l1,1l1,2v-1h1h1v-2l1,2v-3l1,-2v5l1,-6v5l1,6v-4l1,-4v4l1,-1v-3l1,2v-1h1v2l1,-5v6l1,3v-5l1,-2v1l1,4v-4l1,2v5l1,-8v2l1,-1l1,1v-2l1,3v-1l1,3v-1l1,-1v2l1,-4l1,3v-5l1,6v-5l1,4v-4l1,2v-3h1l1,3l1,1v-1l1,-2v2l1,2v-5l1,-1v3l1,4v-6h1v-2h1v-1h1v5h1v-3h1v1l1,-2l1,1v-2l1,3v5l1,-8l1,-4v2l1,1h1v-1l1,-3v3l1,-2v2l1,-2h1v-6l1,10v-9l1,4l1,-3v-2l1,4v-4l1,1v1l1,-3v-4l1,2v2l1,-4v4l1,-7v-1l1,-1v1l1,8v-6l1,-3v-2l1,4v-4l1,-3v6l1,-9v3h1h1v2l1,-4v-6l1,4v-4l1,-5v-2l1,-1v-5l1,6v-2l1,-2v-6h1v2l1,-4v-4l1,-4l1,3v-6l1,5v-1l1,-8v-10l1,2v3l1,-9v-2h1v7l1,-14v-12l1,10v-1l1,-1v-4l1,-1v-5l1,4l1,-5v1l1,-6v7l1,-5v-4l1,1v-5l1,2v5l1,-1v1h1v-4l1,1v8l1,-8v-6l1,7v-2l1,2l1,-3v5l1,-2v4l1,-5v-1l1,2v9l1,-13v11l1,-4v5l1,-5v3l1,1v7l1,-8v2l1,-3v4l1,-3l1,3v2l1,2v-5h1v9l1,-6v3l1,-1v-4l1,6v1l1,8v-13l1,6v5l1,-4v-5l1,11l1,-3l1,2v4h1v-1l1,5v4l1,-5v9l1,-4v3l1,2l1,1v-8l1,6v8l1,-5v5l1,-4l1,4v9l1,-3v-2l1,2v-2l1,8v-1l1,5v1l1,-2v-1h1v4l1,2v5l1,-6v5l1,-3v2l1,5l1,-2v1l1,5v-2h1v-1l1,11v-2l1,-3v6l1,-4v-2l1,3v3l1,-6v7l1,1v1l1,-2l1,2v-7l1,5v4l1,-1l1,-4v4l1,-4v5l1,2v-2l1,4v-1l1,3v-3l1,-5v5l1,2v2l1,1v-1l1,3v-2l1,4v-5l1,7v-2l1,-1v-1l1,4v-2l1,3v3l1,-3l1,1v-2l1,6v-5l1,3v-1l1,-2l1,5v-2l1,-2l1,-6v5l1,5l1,-4v4l1,1l1,1v-7l1,5v-3l1,4v-3l1,2v2l1,-6v3h1v2l1,-4v6l1,6v-9l1,2v-7l1,3v5l1,-1v1l1,2v-3l1,-1l1,2v-6l1,9l1,-9v2l1,4v2l1,-1v3l1,-5l1,3v-4l1,3v1h1v-6l1,5v-5l1,7v-3l1,4v1l1,-7v6l1,-1v3l1,-7l1,1v-2l1,4v-3l1,4l1,1v-5l1,5l1,-4v1l1,-2v6l1,1l1,-6v2l1,1v1l1,-2v5l1,-7v5l1,-2l1,-2v-2l1,2v3l1,-3v-2l1,3v1l1,-3v3l1,1v-1l1,2v1l1,-3v-2l1,-5v9l1,-1v1l1,-4v2l1,-2l1,-2v3l1,2v1l1,-2v-1l1,6v-1l1,-2l1,-2v3l1,-5v-1l1,4v-1l1,2v-4l1,3v-4l1,2v2l1,-1v-2l1,-2v3l1,-1v-2l1,4v-2l1,5v2l1,-3v4l1,-9v-2l1,4v-4l1,5v2l1,-1v1l1,-3l1,1v-1l1,3v-4l1,1v-1l1,3l1,-2l1,-1v-3l1,3v-4l1,5v-3l1,6v-5l1,2v-2l1,-1v-1l1,-3v5l1,-4v8l1,-6v2l1,1l1,3v-4l1,-1v1l1,4v-2l1,-7v4l1,-2v1l1,2v-2l1,1v2l1,-9v4h1v1l1,-2l1,2v-3l1,1v-5l1,4v-4l1,4v3l1,-5v1h1v1l1,-1l1,-4l1,-4v9l1,-9v5l1,-2v-1l1,-4v3l1,-1v1l1,-3v1l1,-4v5l1,-6v10l1,-11v-2l1,1v-2l1,2v-1l1,-6v-2l1,-1v2h1l1,-2v-4l1,-1v1h1v-5l1,2v-6h1v2l1,-7v-4h1v2l1,-4v1l1,4v-7l1,4v-2l1,-8v6l1,-2l1,-3v-1l1,-4v-2l1,2v2l1,-5v7l1,-8v2l1,-6v9l1,-3v2l1,-9v9l1,-4l1,-4l1,-4v5l1,3v-6l1,5v-6l1,-5v9l1,6l1,-6v7h1v-2l1,-2v7l1,-5v-1l1,5v-5l1,5v3l1,-7v4l1,1v-8l1,5h1v-1l1,7v-7l1,3v3l1,3v-10l1,1v1l1,3l1,4v-3l1,2v5l1,-6v2l1,6v-3l1,-4l1,6v-6l1,1v6l1,2v2l1,-8v6l1,-12v8l1,13v-3l1,-2v-5h1v8l1,-3v-1l1,6l1,-3v2l1,9v-9l1,6v-4h1l1,3v1l1,3v-4l1,4l1,-3l1,4l1,-5v5l1,-5v2l1,8l1,-4v2l1,3v1h1v-7l1,3l1,-7v5l1,4v-2h1v-2l1,2v2l1,-1v4h1v-6l1,6v-2l1,2v-4l1,5v-4l1,5v-3h1v-3l1,-1l1,8v-6l1,-1v6h1v2l1,-5v-1l1,3v6l1,-2v2l1,1v-1l1,1v-1l1,2v1l1,-3v4l1,-1h1v3l1,-2v3l1,-5v4l1,-5v4l1,-1l1,-2v3l1,2v-6l1,4v1l1,1l1,-4l1,6v-5l1,4v-1l1,-2l1,2v4l1,-1v-3l1,3v3l1,1v-9l1,6v1l1,-4v-3l1,9v-5l1,-2v2l1,4v4l1,-3v-4l1,6v-8l1,8l1,2v-2l1,1v-2l1,-1v1l1,5v-6l1,1l1,3v-1l1,4l1,1v-2l1,-1v-2l1,-3v4h1v-3l1,4v2l1,-4v4l1,-1v-2l1,2v2l1,-2l1,4v-2h1v-2l1,3v2l1,-6v-1l1,2v2l1,-2v-2l1,8v-5h1v-5l1,9v-6l1,7v-1l1,-1v-1l1,3l1,-4v3l1,-2l1,5v-1l1,-5l1,3v-1l1,2v-2l1,-2v5l1,-3v3l1,-4v6l1,-3h1v-4l1,5v-2l1,-2v4l1,5v-8l1,6v-9l1,6v-2l1,2v5l1,-4v-4l1,6v-5l1,1v-1l1,3l1,-1v4l1,-2l1,-1v3l1,-5v-1l1,5v1l1,-2v5l1,-8v6l1,1v-6l1,4l1,-2l1,1v-2l1,-1v5l1,-1v-1l1,2v-3h1v4l1,-2v2h1v2l1,-6v1l1,-2v2l1,3v-3l1,6v-5l1,-3l1,2v6l1,-6v2l1,-3v1l1,5v-5l1,-1v2h1v3l1,-1v2l1,-3v2h1v1l1,-5v2l1,-5v4h1l1,5v-1l1,-5v7l1,-1v-2l1,-1h1v2l1,-2v3l1,-3v-1l1,1v1l1,1l1,-1v-3h1v-1l1,3v2l1,-1l1,-1h1v3l1,-4v1l1,2v-1l1,2v-3l1,2l1,-3v4l1,1v-4l1,1v2l1,2v-3l1,4v-5l1,5v-6l1,2v-2l1,4v-1l1,-4v-2l1,9v-5l1,-2l1,1v1l1,4v-2l1,-1v-2l1,3v-4l1,5l1,-3v-2l1,2v1l1,4v-1l1,-4v-1l1,-1v3l1,-1v2l1,-1v-2h1v-2l1,5v-4l1,4v-5l1,-2v5l1,-1v3l1,-2l1,2v-3l1,3v3l1,-4v-2l1,1l1,-1v1l1,4v-5l1,-1v4l1,-2v1l1,-1v1l1,3v-2l1,-2v1l1,-1l1,3h1l1,-2v1l1,1v2l1,-2v-1l1,-1v3l1,-2v1h1v-2l1,2v2l1,-4v1l1,-1v2l1,4v-4l1,2l1,-2v-1l1,1l1,-1l1,1v-2l1,4v-2l1,-1v-1l1,2v-2l1,-1v2l1,3v-3l1,1v-2l1,2v-2h1l1,1v-2l1,2l1,-1v-2l1,4v-3l1,-1v3h1v2l1,1v-7l1,3v2l1,-3l1,4v-1l1,-2l1,2v3h1v-7l1,4v-4l1,3v-2l1,1l1,1v-2l1,3v-2l1,-1v4l1,-2v-1l1,1v1l1,-2v-1l1,1v-1h1v4l1,-1v1l1,-4v-2l1,2v2l1,-2v1l1,-2v3l1,-2v1l1,1l1,-3v-1l1,1v2l1,-1v2l1,-1v1l1,-2v2l1,-1v-6l1,7v-1l1,-3v-2l1,-2v4l1,-2v-1h1v-1l1,5v-4l1,1l1,1v-2l1,2v-3l1,6v-9l1,5v3l1,-7v5l1,2v-6l1,4v-5l1,2l1,-1v-2h1v1l1,-3v4h1v2l1,-2v-1l1,-1v6l1,-9v1l1,8v-3l1,-2l1,1v-6l1,3v2h1v1l1,-2v-2l1,-1v3l1,-2v2l1,2v-1l1,-6v6l1,-5v-2l1,9v-4l1,-3v1l1,3l1,3v-2l1,-4v-2l1,3v2l1,-1v-4l1,3v2l1,-4v4l1,2v-1l1,-4v1l1,1v-1l1,3v-2h1v1l1,-1v-2l1,3v-1l1,3v-1l1,-1v3l1,-3v-2l1,6v1l1,-4v-3l1,1v4l1,-2l1,2v-3l1,1l1,4v-2l1,1l1,1v-1l1,-3v1l1,4v-3l1,4v-5l1,-2v4l1,-2h1v-3l1,6v-1l1,-2v-1l1,5v-2l1,3v-2l1,1v-1l1,-3v3l1,2v-5l1,2v4l1,-5v5l1,-5v-1l1,3l1,3l1,-6v2h1l1,2v-1l1,1l1,3v-4l1,2v2l1,-1v-1l1,2v-1h1l1,1v1l1,-3v2h1l1,-2v-1l1,2v3l1,-5v4l1,-1h1v-1h1v2l1,2v-3l1,1v-2l1,1l1,2l1,-2h1v-1l1,2v-1l1,3v-7l1,1v1l1,3v-1l1,-1v-4l1,6v-3l1,5v-2l1,-2v1l1,4v-4l1,-1v-3l1,5v-1l1,3v-2l1,2v-3l1,-1v4l1,-2v-1l1,1v2l1,-3v5l1,-3v-3h1l1,2h1l1,1v-1l1,-1v-4l1,8v-2h1l1,2v-3l1,3v-4l1,1v2l1,-1v2l1,-4v2l1,-2v-1l1,4v-2l1,-2v1l1,2v-1h1v2l1,-2v-3l1,5v-3h1v-3l1,-2v6l1,-1l1,1v1l1,1v1h1v-5l1,1v2l1,2v-1l1,-3v-1l1,3v-1l1,2l1,-1v-2l1,-1v2l1,1v-1l1,1v-2l1,3v-1l1,-2l1,1l1,3v-3l1,1v-5l1,6v-3l1,-1v-3l1,3v6l1,-3h1v-3l1,2h1v-3l1,1l1,7v-10l1,7v-1l1,-2v1l1,-1l1,-2v-3l1,9v-2l1,-6v5l1,-3v1l1,-3l1,6v-5h1v2l1,1v-4l1,2v1l1,-3v-1l1,3v-2l1,3v-7l1,5v-2l1,-3l1,3v-3l1,2v3l1,-4v2h1v-2l1,-1v2l1,-1v-2l1,1v1l1,-4v-1l1,3v1l1,-8v6l1,2v-1l1,-4v2l1,-6v5l1,-1v1l1,-3v2l1,-3v3l1,-2v-6l1,-3v8h1v1l1,-5v1l1,-2l1,-2v1l1,4v-5l1,5v-8l1,3v1h1v-1l1,-4v3l1,4v-2h1l1,-2l1,-1v5l1,-2v-1h1v-1l1,-3v3l1,-1l1,2v3l1,-6v3l1,4v-7l1,5v-2l1,3v2l1,-4v3l1,-1l1,4v-14l1,7v2h1v4l1,-1v-4l1,-2v6l1,-2v-2l1,3v3l1,-4v3l1,-9v7l1,4v-3l1,-5v-1l1,3v-3h1v-5l1,5v4l1,-5v1l1,-2v3l1,2v-1l1,-8v7l1,-2v2l1,-3v6l1,2v-3l1,5l1,-7v-1l1,-5v3l1,1v5l1,-7v3l1,1v-1l1,-1v3l1,-5v2l1,1v3l1,-1v-2l1,2v-9l1,6v-2l1,-3v6l1,-3v-1l1,-3v5l1,3v-3l1,1v1l1,-3v-1h1h1v1l1,-1v4l1,-4l1,6v-5h1v4l1,-4v-2l1,7v2l1,-9v7l1,-3v1l1,5v-8l1,3v4l1,-2l1,-2v-1h1v3l1,-2v3l1,5v-11l1,5v-1l1,-2v3l1,-3v-1l1,4v4l1,-5v2l1,-3l1,-2v4l1,1l1,-6" transform="translate(0.5,0.5)" fill="none" stroke="#0000ff" stroke-width="3.0" stroke-linejoin="round" stroke-miterlimit="3" shape-rendering="crispEdges"/>
<text transform="translate(572.56,823.02) scale(0.5976,0.5860)" font-size="100" class="a">*</text>
<text transform="translate(943.66,803.62) scale(0.5976,0.5860)" font-size="100" class="a">*</text>
<text transform="translate(1171.46,832.87) scale(0.5976,0.5860)" font-size="100" class="a">*</text>
<g mask="url(#hm)"><text transform="translate(502.36,750.35) scale(0.7140,0.7863)" font-size="100">#</text><text transform="translate(594.86,876.35) scale(0.7140,0.7863)" font-size="100">#</text><text transform="translate(985.26,862.95) scale(0.7140,0.7863)" font-size="100">#</text><text transform="translate(1223.06,882.15) scale(0.7140,0.7863)" font-size="100">#</text></g>
<path d="M244,1081v-5l1,-2v-4l1,8v5l1,-4v2l1,1v-5l1,11v-11l1,4v8l1,-9v1l1,-2v3l1,-7v5l1,7v-4l1,-2v2l1,1v-1l1,2v-7l1,7v-5l1,6v-2l1,-3v3l1,-3v6l1,-3v3l1,-5v10l1,-8v5l1,-1l1,-6v4l1,-2v3l1,5v-4l1,1v-6l1,4l1,3v-5l1,3l1,-5v1l1,4v-4h1v6l1,-2v-1l1,1v-1l1,-1v1l1,2v3l1,-5v1h1v-3l1,4v2l1,-5v5l1,-4v5l1,1v-5l1,-4l1,5v-3h1v3l1,5v-4h1v-5l1,4v-2l1,5v-3l1,2h1v3l1,-1v-3l1,2v1l1,3v-3l1,3v-5l1,1v-6l1,10v-6h1v6l1,-4l1,4v-3l1,3v-3l1,3v1l1,-2v4l1,-5h1v1l1,3v-4h1v2l1,3v-4l1,-3v4l1,2v-3l1,2v-6l1,5v1l1,1l1,1v-5l1,5v-6l1,3v4h1v-7l1,6v-2l1,-1v2h1v4l1,-7v2l1,1v-4l1,8v1l1,-6v3l1,-2v2l1,-3l1,4v-5l1,7v-3l1,6v-11l1,4v-3l1,3v2l1,-3v-2h1v5l1,2v2l1,-5v-2l1,1v-2h1v6l1,-3v1l1,-1v4h1v-5l1,1v-1l1,5l1,-3v6l1,-6v-3l1,-2v5l1,1v-2l1,3l1,2v-3l1,2v2l1,-3v-3l1,3l1,4v-6l1,-3v5h1v-2l1,2l1,2v-5h1v2l1,-1v4l1,-2v-1l1,4v-3l1,1l1,-2h1v-3l1,2v3l1,-1v-4l1,9v-9l1,4v1l1,1l1,-5v2l1,-1v3l1,-1h1v3l1,-3v1l1,-5v4l1,-5v6l1,-2v-3h1v2l1,1v-2l1,1l1,-1v1l1,1v2l1,-1v-3l1,5v-1l1,-4v4l1,-4v-1h1v6l1,-4v1l1,-1v-1l1,2l1,4l1,-8v6l1,-2v-6l1,7v1l1,-1v-2h1v-6l1,6v-1l1,-2v2l1,-2v7l1,-8l1,-3v4l1,2v-1l1,-2v4l1,-1v2l1,-4v-4l1,4v-2l1,5v-4l1,1l1,-4v3l1,3v-4l1,1v1l1,-3l1,1v2l1,-2v1l1,-1v-3l1,-1v9l1,-2v-4l1,2h1v-4l1,-3l1,2v4h1v-5l1,-1v4l1,2v-11l1,5v-1l1,-2l1,-1l1,-5v4l1,2v-1l1,-1v-2l1,-1v4l1,-7v1l1,2l1,-4v-5l1,1v-1h1v-2l1,4v-2l1,-2v-5l1,4v-1l1,3v-11h1v3l1,-10v3l1,-2v-3l1,-5v1l1,-7v8l1,-8v1l1,-2v-1l1,-2v-1l1,-5v-1l1,-7v-2l1,-2v-3l1,-4l1,2v-3l1,-6l1,-2l1,7v-21l1,5v-9l1,8v-8l1,1v-3h1v-18l1,6v4l1,-8v7l1,1v-13l1,2v3l1,4v-5l1,-3v-10l1,4v-1l1,-4v4l1,-4v-1l1,12v-12l1,15v-17l1,1v-6l1,3v10l1,-8v-10l1,17v-11l1,3l1,2v-8l1,18l1,-7v4l1,-1v-1l1,3v-4l1,6v1l1,13v-14l1,18v-4l1,-1v-1l1,13l1,-5v2l1,4v10l1,-10v7l1,7v-9l1,8v7l1,-4v3l1,-4v10l1,-4v5l1,5v-2l1,8v2l1,2l1,3v-2l1,-5v14l1,2v-3l1,1v10l1,-4v2l1,2v12l1,-8v-5l1,10v-1l1,-1v8h1v6l1,-3v7h1v-1l1,3v5l1,-3v-5l1,6v1l1,4v-3l1,5v-3l1,2l1,2l1,2v-2h1v3l1,2l1,-1v3h1v5l1,-8v10l1,-11v2l1,6v-3l1,2l1,-1l1,3v2l1,1v-1h1v4l1,-8v6l1,3v1l1,-1v1l1,-1v-2l1,-5v4l1,1v5l1,-5l1,3v-4l1,3v1l1,-2v1l1,-4l1,-1v5l1,3v-4l1,-1l1,4v-5l1,4v-2l1,1v-2l1,2v3l1,-4v-1l1,-5v7l1,-3v2h1v-3h1v-2l1,8v-2l1,-1v1h1v-1h1v3l1,-11v5l1,-3v2l1,-7v3l1,5v-6l1,4l1,-4v2l1,-4v2l1,-3v5l1,-7v5l1,-2l1,4v-5l1,-1v1l1,1v-4l1,6v-5l1,-2v-2l1,1v2l1,1v-4l1,-2v1l1,-6v9h1v-4l1,2v-5l1,8v-6l1,-1v7l1,-9v4l1,-4v1l1,1v-1l1,9l1,-4v-6l1,9v-7l1,-1v2l1,-4v7l1,-7v-2l1,7v-6l1,2v-3l1,2v2l1,-8v7l1,-2v7l1,2v-4h1v1l1,1v-8l1,1v3l1,-3v3l1,2v-2l1,4v3l1,-4v1l1,-1v1l1,-1v-2l1,6l1,2v-3l1,1v-3l1,4v2l1,-1v1l1,-2l1,3v6l1,-5v-2l1,3v2l1,4v1l1,-4l1,3v1l1,-2v6l1,-3v3l1,-1v3l1,-1v1l1,3v-2l1,3v-6l1,3v-1l1,-1v4l1,5v-4l1,3l1,-7v5l1,-2v3l1,2v-4l1,5v-4l1,2v-1l1,2l1,-5v5h1v5l1,-9v6l1,2v3l1,-2v-2l1,3v-3h1h1v5l1,-7l1,6v-1l1,1v-2l1,2v-2l1,-1v1l1,1l1,-1v4l1,-2l1,-2v-2l1,3v-3l1,1h1v3l1,-8v11l1,-2v-2l1,-1v3l1,-1v4l1,-4v-2l1,-1v3l1,2v-4l1,5v-1l1,-2v3l1,-6v-1l1,5v1h1v-1l1,-3v4l1,-2v3l1,-1v-3l1,4v1l1,-1l1,-3l1,4v-2h1v3l1,-1v-1l1,-1v4l1,-6v3h1v-3l1,1v4l1,-2v-2l1,6v-3h1v3l1,-7v2h1v5l1,-5v7l1,-4l1,1v-2l1,-2v1l1,1v-2l1,3v-2l1,1v1l1,3l1,2v-1l1,-4v-1l1,4h1v-4l1,2v-1l1,3l1,-1v-2l1,5v-3l1,1h1v3l1,-5l1,3v-9l1,7v-1l1,3v-1l1,-1v-2l1,2l1,1l1,-2v3l1,-3v2h1v2l1,-2v3l1,-4l1,-1v3l1,-4v3h1h1l1,2v-3l1,-6v6l1,2v1l1,-1v-1l1,-2v5l1,-5v-1l1,-3v10l1,-4v-4l1,5l1,-5v5l1,-1v1l1,1v-3l1,5v-5l1,-1v4l1,-4v1l1,2v-3l1,-1l1,3v-1l1,-1v3l1,-4v4l1,-4v3l1,-3v4l1,-2v-1l1,1l1,2v-3l1,2v-1l1,-1l1,-1v3h1l1,-4v3l1,4v-1l1,-3v1h1v2l1,1v-2h1v-1l1,1v3l1,-5v3l1,-4l1,1v-2l1,3v4h1v-2l1,-1v2l1,-4v-1l1,1v1l1,-3v2l1,5v-4h1v-1l1,3l1,-1v-1l1,-4v2l1,2v-1l1,1v-1l1,5v-1l1,-5v4l1,-1v-1h1v1l1,3v-5l1,1l1,-3v3l1,-2l1,2v1l1,3v-5h1v2l1,3v-4l1,1h1v-2l1,-1l1,1v2l1,-3l1,2h1v-3l1,7v-4l1,-1v-1l1,3v1l1,-2h1v5l1,-4v-2l1,1v2l1,-2v1h1v-1l1,1l1,3v-3l1,-1v-1l1,1v-1h1v3l1,-1v2l1,-2v-1l1,2v-1l1,2v-4l1,1v1l1,3v-3l1,-3v1l1,3v-5l1,2v1h1v1l1,1v-1l1,-3v7l1,-2v-4l1,1v-2l1,5v-4l1,3v-1l1,2l1,-2v-1l1,1v1l1,-3v1l1,-3v6l1,-4v3h1h1v-3l1,2v-2l1,1v-1l1,6v-4l1,1v-3l1,5v-4h1l1,-3v-1l1,5v-3l1,2v4l1,-4v4l1,-3v-3l1,3v1h1v-3l1,-1v4l1,2h1v-5l1,1v1l1,1v-1h1v-1l1,-5v3l1,3v-4l1,7v-5l1,3l1,1v-5l1,2v5l1,-5v2l1,-7v6h1v-1l1,-3v2l1,1l1,-2v5l1,-1v-2l1,3v-5l1,3v3l1,-2v-2l1,1l1,-1v-1h1v2l1,-1v1l1,-2v2l1,1v-3l1,5v-5h1l1,-1v-1l1,1v2l1,-1v5l1,-4l1,-1v3l1,-1l1,1v2l1,-5v3l1,-1l1,-1v2h1v-1l1,-2v3l1,-3v-1l1,4l1,-2v-3l1,2v2l1,1v-2l1,-1v-1h1v2l1,-1v2l1,-2v3l1,-3v1h1v-1l1,4v-5l1,1l1,2v-4l1,5v-5l1,1v1h1v-2l1,4v1l1,-3v1h1v4l1,-5l1,-1v1l1,-2h1l1,2v-3l1,3v-3l1,3v-5h1v3l1,2v-5l1,-3v6l1,-2v-2l1,4v-1l1,-4l1,2l1,1v-2l1,2v-5l1,-2v1l1,-1v1l1,-2v3h1v1l1,-5v-3l1,2l1,-1v1h1v-1l1,-4l1,4v-5l1,-4v4l1,2v-3l1,-5v2l1,3v-3l1,-2v-3l1,1v-2l1,4v-3h1v-7l1,3v2l1,1v-2l1,-6v8l1,-9v-1l1,-1v-3l1,1v-2h1v-1h1v2l1,-5v-2l1,4v-3l1,2v-6l1,2l1,-3v-2h1v1l1,1v-5l1,5l1,-3v-3l1,-2v5l1,-6v6l1,-10v-1l1,7v-6l1,6v-5l1,-1v2l1,2v-1l1,-3v-1l1,3v-5l1,-1l1,13v-6l1,-4v-2l1,2v-7l1,4v4l1,-3v-4l1,3v-1l1,8l1,-4v-3l1,7v-9l1,6v-2l1,-2v-1l1,3v3l1,-9v5l1,3v-5l1,1v7l1,-5l1,3l1,1l1,3v-2l1,2v-5l1,4v-2l1,7v-3l1,3v-3l1,-2v6l1,-2v-3l1,5v-1l1,7v-3l1,3h1v3l1,-1v1h1v-4l1,5v-3l1,1v5l1,-5v6l1,4v-2l1,3v-4l1,3v-10l1,9v2l1,7v2l1,-9v4h1v7l1,-1v-2l1,4v1l1,-3v6l1,-2v1l1,-5v5l1,-5v7l1,-1v5l1,1l1,-6v8l1,-4v4l1,-1l1,1l1,5v-3l1,-2v5l1,-2v2l1,-2v3l1,-3v1l1,2v2l1,-2l1,6v-5l1,-5v7l1,-3v-2l1,6l1,-3l1,2v2l1,-4v5l1,-2l1,3v-4l1,2v-1l1,-6l1,6v1l1,-1v3l1,-3v2h1l1,-4v2l1,1v4l1,-4v2h1v-4l1,1v3l1,1v2l1,-4v-2l1,3v-3l1,6v-4l1,1v4l1,-3v-3l1,3v-2l1,-1v1l1,-1v4l1,-3v1l1,3v-2l1,-1l1,2v-2l1,2v-1l1,3v-3l1,-1v1l1,-3v4l1,2v3l1,-4v2l1,-6v7l1,-2v2l1,-4v2h1v-1h1v5l1,-7v2l1,2v2l1,-5l1,-2v5l1,-1v1h1v-4l1,6l1,-5v2l1,-1l1,1v5l1,-2v-4l1,7v-3l1,-1v-2h1v1l1,6v-7h1v4l1,-2v-2l1,7v-6h1l1,2l1,1v-1l1,-2v4l1,-3v-1l1,2v1l1,-3l1,1v-2l1,1v2h1v-6l1,8l1,-5v5l1,-6l1,6v-4l1,2v-1l1,1v-4l1,6v-1l1,-2v3l1,-3v4l1,-1v1l1,-5v2l1,-5v4l1,-1v-1l1,4v-2l1,2v-4h1v2l1,-5v2l1,2v-4l1,5v-3l1,4v-4l1,5v-7l1,6v-5l1,5v-3l1,-4l1,5v-2l1,1l1,2v-3l1,2v-4l1,1v2l1,2v-3h1v1h1v-3l1,8v-7l1,-2v2l1,1v-1l1,-1v1l1,1v-2l1,-1v2h1v-3l1,8v-3l1,1v-1l1,-6v8l1,-8v1l1,2v-2l1,3h1v-2l1,4v-7l1,4l1,3v-3l1,-5v4l1,-2v1h1v2l1,-4v2h1h1v-6l1,4v3l1,-6v2l1,-2v2l1,-1v-3l1,3v-1l1,-4v2l1,-1v-2l1,5v-5l1,2v-6l1,4v-3l1,3v-2l1,3l1,1v-8l1,3v-1l1,-1v-1l1,1v1h1l1,-3v2l1,-2v1l1,-1v-2h1v-4l1,-4v1l1,4v-2l1,-2v4l1,-2v1l1,-7l1,2v1h1v-3l1,2v-1l1,-4v3l1,-3v-1l1,-5v1l1,-1l1,3v-5l1,-2v4l1,8v-8l1,-5v3l1,3v1l1,-2v4l1,-3v-6l1,8v-7l1,5v-3l1,-7l1,5v1l1,5v-4l1,5v-5l1,-2v-3l1,7v-2h1v-5l1,5v-9l1,7v-1h1v-9l1,14v-9l1,1l1,1l1,-4v8l1,-3v2l1,-5v5h1v4l1,-6v-4l1,7v1l1,2v-1l1,-4v3l1,-3v5l1,6v-10l1,-1v1l1,3v3l1,-2v-4l1,6v2l1,2v-2l1,-5v7l1,-3v-2l1,4v1l1,1v-5l1,4v1l1,2l1,1v-4l1,6v-5l1,5v-1l1,-6v5l1,3v1l1,-1v3l1,-1v-1l1,5v8l1,-10v1l1,3v-3l1,5v-2l1,5v-6l1,3v-2l1,3v-2l1,-1v1l1,1v2l1,-2v4l1,-2h1v1l1,6v-8l1,2l1,1v1l1,-2v-4l1,7l1,1v-1l1,-4v6l1,-4v2l1,4v-2l1,-4v2l1,3v-1l1,-2v-3l1,1v2l1,1v3h1v-7l1,3v-1h1v4l1,-2v-2l1,8v-7h1v1l1,6v-3l1,-3v2l1,-2l1,4v-1l1,-6v6l1,2v-6l1,4v-1l1,3v-5l1,5v-2l1,4v-2l1,-2v-2l1,2v4h1v-2l1,1v-2l1,-1v1h1l1,2v4l1,-8v5l1,-1v-2l1,3v4l1,-8v4l1,-3v5l1,-1l1,-1v3h1l1,-4v-1l1,3v2l1,-2v5l1,-4v-1l1,2v-3l1,1v1h1v5l1,-1v-2l1,-1v3l1,1v-3l1,-3v4l1,-1l1,1v2l1,-2l1,-1l1,-1v4l1,-1v-1h1v2l1,1v-1h1v1l1,-3l1,-1v7l1,-3v2l1,-5v3l1,3l1,-2v1l1,-1v-3h1l1,1v4l1,-3v5l1,-2l1,-4v2l1,2v-3l1,3v1l1,-1v-4l1,4v-3l1,5v-4h1v1l1,-1v3l1,-1v3l1,-7v3l1,1l1,-1v-2h1v3l1,-2v-2l1,1v3l1,1v-2l1,2v-1h1v-3l1,1v3l1,-1v1l1,1v-7l1,6l1,-1v1l1,-3v3h1l1,1v1l1,-2v-2l1,1v3l1,-1v-2h1v1l1,-3v1l1,2l1,-1h1l1,3v-3l1,1v-1l1,-1v-2l1,2v7l1,-6v2l1,-1v3l1,-4v-2l1,-4v10l1,-1v-6l1,5v-2l1,1v-2l1,3v3l1,-3h1v-1h1v3l1,1v-2l1,-1v1l1,1v-2l1,-1v3l1,-4l1,3v-2h1v1l1,-1v1l1,1v-1l1,1v2l1,-2v-1l1,1l1,-3v2l1,-1v4l1,-4v1l1,1v-5l1,1v3h1v-2l1,3l1,1v1l1,-1v-2l1,3l1,-3l1,2l1,2v-2l1,1l1,1v-2l1,1v-4l1,1v1h1l1,1v-3l1,5v-2l1,1v-5l1,2v-2l1,1v3h1v1l1,-4v4l1,-3v2l1,1v-4l1,2v1l1,1v-5h1v1l1,3h1v1h1v-1l1,2v-6l1,1l1,3l1,-4v6h1l1,-6v4h1v2l1,-3v1l1,-3v4l1,1v-2l1,-5v3l1,-1v3l1,-1v1h1l1,1v-4l1,6v-4l1,-1v3l1,-1v1l1,1v-3l1,2v-4l1,3v-1l1,-1v-1l1,3v-4l1,2l1,4l1,-2v-1l1,3v-3l1,1v1l1,-3v-2h1v1h1v2l1,2v-2l1,-1v2l1,-3v4l1,-1v2l1,-2l1,1v-1l1,1v-1l1,1v-3l1,4v-3l1,4v-5l1,2v4l1,-2v-4l1,4v-2l1,-2l1,5v-3l1,4v-5l1,1v2l1,-4v2l1,-4v5l1,1l1,-2v-2l1,5v-4h1v4l1,-2l1,3v-5l1,2v-4l1,2l1,1v-1l1,-3v2l1,2v-4l1,5l1,-5l1,6v-2l1,-3l1,1v1l1,-3l1,5v-5l1,1v1l1,2v-2h1v3l1,-3l1,1l1,-2v-1l1,3v-1l1,1v-3l1,-2v1l1,6v-5h1l1,-2v1l1,3l1,-3v1h1v1l1,-2h1l1,-1v2l1,1v-4l1,4l1,-3v3l1,-1v-6l1,1v4l1,1v-1l1,-2v2l1,-5v6l1,-1v-2l1,3v-5l1,4l1,-1v1l1,-2v4l1,-8v4l1,1v1l1,2v-4l1,-1v2l1,-2v1l1,-1v-2l1,6v-5l1,3v1l1,-3v3l1,-5l1,1v2l1,2v-4h1v3h1v-3l1,4v2l1,-3v1l1,1v-4l1,2v-2l1,2v-1l1,-1v-2l1,1v-1l1,1v1l1,3v-1h1v-3h1v2l1,2v-5l1,1v3l1,-1v2l1,-1v-2h1l1,1v2l1,-2h1v3l1,-2v3l1,-2v-2l1,3v-3l1,2l1,4v-2l1,-3v1l1,-2l1,2l1,-3v3l1,-2v3l1,-4v4l1,-2v-1l1,2v-1l1,-2l1,4v-2l1,2v2l1,-4l1,-2v3l1,-2v-1l1,3l1,2v-1l1,-4v7l1,-1v-2l1,2v-3l1,1v1l1,-1v2l1,-3v1h1v-3l1,1v-1l1,6v-3l1,-3v2l1,-1v5l1,-6v6l1,-4v2l1,-2v-3l1,6l1,-1l1,2v-5l1,1v2l1,-2l1,-1l1,4v-3l1,3h1v-2l1,2v-4l1,4v-4l1,4v-1l1,-1v3l1,-1v-1h1v-4l1,5v-2l1,3v-2l1,2v-3h1v2l1,-1v-1l1,2v-3l1,1v2l1,-1l1,1v-3l1,3v-1l1,1v-1l1,-3v5l1,-5l1,3v1l1,3v-6l1,3h1v-2l1,3v-3l1,1l1,2v-3l1,2l1,-1v-2l1,3v1l1,-1v2l1,-2v2l1,-1l1,1v-2l1,-1v3l1,-1v-3l1,1v2l1,1v-2l1,2v-2l1,3v-7l1,6h1v-1l1,-3v2l1,-2v4l1,-5v4l1,-2v-2l1,4v3h1v-4l1,1l1,2v-2l1,3v-3h1h1v1l1,-1v4l1,-7v6l1,-1v-1l1,1l1,-3v-2l1,8v-3l1,-1v4l1,-6l1,3l1,-2v-1l1,-1v2l1,-2v4l1,-5v1l1,1v-2l1,6v-5l1,3v-4l1,7v-4l1,1v-2l1,1v-3l1,1v2l1,-4v1l1,4v-1l1,-1v1l1,-1v2l1,-4v-1l1,1v5l1,-7v3h1v-2l1,2v-1l1,1v-1l1,2l1,-3v-3l1,8v-1l1,-4l1,-1v5l1,-6v4l1,-1v-4l1,6v-6l1,3v-1h1v-5l1,4v1l1,-4v3l1,2v-1l1,-5v5l1,-5v4l1,-6v3l1,-3v7l1,-2v-5l1,1v3l1,-1v-1h1v1l1,-2l1,-3v2l1,3h1l1,-2l1,3v-6l1,1v5l1,-2v-4l1,-2v1l1,4v-3l1,3v-5l1,5v-3l1,2v4l1,-4v1l1,-5l1,-1v6l1,-5v3l1,3v-6l1,2v-3l1,4v-2l1,3v-2l1,2l1,-6v1l1,4v-1l1,-1v-2l1,1v-1l1,3v-3l1,2v-4l1,7v-3l1,-2l1,-2v4l1,1v2l1,-4v-3l1,1v3l1,-3v-2l1,7v-5l1,1v5l1,-7v4l1,1v-2l1,-1l1,1v-2l1,4v1l1,-9v7l1,-2h1v1l1,-1v1l1,-3v4h1v-1l1,2v-4l1,3v1l1,-4v1l1,-1v-1l1,6v-4l1,-2v1l1,1v6l1,-4v-4l1,2l1,-2v1h1v1l1,2v-5l1,1l1,3v-4h1v4l1,-5v-2l1,7l1,-4v3l1,-3v-2h1v8h1v-1l1,1v-5l1,1v-6l1,5v2l1,-2v6l1,-8v3l1,-2v1l1,-1v1l1,-3v5l1,-2v-1l1,-1v3l1,-1v1l1,-1v4h1v-4l1,5v-2l1,-1v1l1,-2v2l1,-1l1,2" transform="translate(0.5,0.5)" fill="none" stroke="#00ff00" stroke-width="3.0" stroke-linejoin="round" stroke-miterlimit="3" shape-rendering="crispEdges"/>
<text transform="translate(462.56,939.02) scale(0.5976,0.5860)" font-size="100" class="a">*</text>
<text transform="translate(576.56,1066.92) scale(0.5976,0.5860)" font-size="100" class="a">*</text>
<text transform="translate(953.76,1057.82) scale(0.5976,0.5860)" font-size="100" class="a">*</text>
<text transform="translate(1186.66,1055.92) scale(0.5976,0.5860)" font-size="100" class="a">*</text>
<g mask="url(#hm)"><text transform="translate(492.26,1039.35) scale(0.7140,0.7863)" font-size="100">#</text><text transform="translate(616.21,1088.35) scale(0.7140,0.7863)" font-size="100">#</text><text transform="translate(997.06,1106.25) scale(0.7140,0.7863)" font-size="100">#</text><text transform="translate(1226.16,1102.35) scale(0.7140,0.7863)" font-size="100">#</text></g>
<path d="M244,1308v1l1,4v-3l1,3v1l1,-6v7l1,-5v8l1,-2v-5l1,2l1,1v3l1,-2v3l1,-3v-2l1,-3l1,5v1l1,2v-5l1,2v-2l1,1v-5l1,8v-4l1,2v2h1v-5l1,8v-2h1v-3l1,-3l1,4l1,2v-3l1,7v-4l1,2l1,-5v6l1,-1v-5l1,6v1h1l1,-6v3l1,-1v2h1v3l1,1v-6l1,5v2l1,-3v-5l1,3v1l1,-4v4l1,-2v5h1v-2l1,-3v4l1,-2l1,5v-5l1,-1l1,6v2h1v-2l1,4v-7l1,7l1,-6v2l1,-4l1,5v-5l1,4v1l1,-1v2l1,3v-4l1,2v1l1,-5l1,-4v7l1,2v-2l1,5v-2l1,-1v-2l1,-2v2l1,1v-1l1,-1l1,3v-6l1,4l1,1v2h1v-2l1,-1v-2l1,6v-1l1,-1v-2l1,-1v6l1,-3v2l1,3v-8l1,2v3l1,1v-4l1,2v-1h1v3l1,-1v3l1,-2v3l1,-7v4l1,-4v-1l1,1v5l1,-1v-4l1,7v-1l1,-2h1v-3l1,9l1,-7v1h1v-1h1v3l1,-4l1,1v4l1,-4l1,3v-4l1,2v4l1,-2v-1l1,4v-5h1v-3l1,5v1l1,-3v6l1,-2l1,-5v3l1,1v-6l1,5v-1l1,-3v5l1,4v-3l1,-4v1l1,4l1,-5v3l1,-1l1,4v-8l1,7v-2l1,-1v-4l1,5v-2l1,-6v4h1v1l1,1v-1l1,6v-1l1,-3v4l1,2v-4l1,-6v6l1,2v-5l1,2v2l1,1v-1l1,-1v-1l1,-1v4h1v-3l1,-1v5l1,-1l1,-4v-2l1,4v2l1,1v-1l1,-5v3l1,-1l1,8v-7l1,1v-1l1,2v1l1,-3v1l1,-1v-2l1,2v1h1v-1l1,-4v5h1v3l1,-5v-2l1,-1v3l1,1v1l1,-4v2l1,4v-2l1,-1l1,-3l1,2l1,4l1,-3v2h1v1l1,-4v2l1,2v-5l1,2v1l1,1h1v1l1,1v-3l1,5v-7l1,1v1l1,-2v-2h1v6l1,-4v-2l1,8v-4h1v-3l1,2v-2l1,2v-1h1v1l1,-3v1l1,-1l1,3h1v-7l1,9v-5h1h1v3l1,-3l1,1v1l1,-8v1l1,-2l1,5v-1l1,-1v1l1,-1v2l1,1v-7l1,6v-2l1,-5v2l1,-2v-4l1,5v-5l1,4v-4l1,2v2l1,-2v-3l1,2h1l1,-5v4l1,-4v-2l1,4v-3l1,-1v-2l1,-7v5l1,-1v-3l1,3v-6l1,4v-3l1,-7v-2h1v-1h1v-6l1,-3v7l1,-9v-2l1,1v-9l1,-13v5l1,-9v1l1,-16v1l1,-3v-4l1,-7v-6l1,-10v-5l1,-10l1,6v-5l1,-9v-11l1,-7l1,7v-6l1,-4v3l1,6v-5l1,2v2h1v14l1,-9v9l1,8v-1l1,3v5l1,4v2l1,3v4l1,5v10l1,-6v8l1,-1l1,-1v11l1,-4v9h1v9l1,-7v10l1,4h1v-2l1,5v2l1,1v5l1,-1v2l1,4v-2h1v3l1,-1v-5l1,7v2l1,-2v-1l1,9v-3l1,5v2l1,3v-2l1,2v2l1,-4v6l1,1v-8l1,3v5l1,5v-4l1,-2l1,7l1,-1v4l1,-1l1,5v-6l1,3v5l1,-4l1,2v7l1,-4v4l1,-6v3l1,3l1,-2v-4l1,8v1h1v-5l1,1v3l1,-1v6l1,-5v2l1,-1v-1l1,7v-1l1,-2v3l1,-5v9l1,-5v-2l1,2v4h1v2h1v-1l1,3l1,-6v5l1,1l1,-1h1v-2l1,3v4l1,1v-4h1v1l1,1v1l1,1v2l1,-7v2l1,1v1l1,1v4l1,-7v4l1,-2v1h1v2l1,-2v-3l1,4l1,-5v5l1,-2l1,1v4l1,-8l1,4v-5l1,5v2l1,-6v6l1,-1v-2h1h1l1,2l1,-4v4l1,2v-1l1,-3v-5l1,3h1v-3l1,4v1l1,-6v2l1,-1v2l1,2v-8l1,9v-2l1,-6v7l1,-2v-1l1,-2v-3l1,2l1,-3v1l1,2v-4l1,-2v3h1v-1l1,-5v3l1,-1v-7l1,1v-8l1,3v-4l1,2v-3l1,-6v7l1,-5v7l1,-2v-3l1,-3v1l1,-6v4l1,2l1,-5v7l1,-3v-3l1,4v-4l1,2v2l1,6v2l1,-10v4l1,1l1,3l1,-1v4l1,-1v1l1,5h1v4l1,-2l1,2v3l1,-3v6l1,-4v2l1,2v-2l1,-1v2l1,3v1l1,-1v-3h1v1h1v2h1v-1l1,4v-3l1,2v-2l1,5v-1h1v2h1l1,-5v4l1,-2v1l1,1v-2l1,1v3l1,1v1l1,-1v-1l1,1h1v2l1,-2l1,-1v4l1,-2v2l1,1v-2l1,2l1,1v-4l1,6h1v3l1,-6v7l1,-5v3l1,1v-6l1,4v-1l1,2l1,-4v7l1,-3v-1l1,-1v5l1,-4v3l1,-4v3l1,-4v4l1,-2v-2l1,6l1,-3l1,4v-5l1,2l1,2h1v-2l1,4v1l1,-1v4l1,-4v1l1,4v-4h1v-3l1,3v-1l1,2v-3l1,5v-2l1,1l1,-2v-3l1,4v-1h1v4l1,-3h1h1v1l1,-1v-2h1v2l1,1l1,-3v-1h1v6l1,-2v-1l1,-1v5l1,-3l1,-2v4l1,-4v-1l1,4v-1h1v-4l1,2v-1l1,2h1l1,-1v4l1,-5v3l1,-1v2l1,-3v3l1,-3v2l1,-1v5l1,-7v2l1,-3v2l1,1h1l1,1v1l1,3v-3l1,-1l1,2v1l1,-3v3l1,-1v-5l1,10v-4l1,-4v-1l1,4v-2l1,2v-1l1,3l1,-4v2l1,1v-2l1,2v-1h1v-1l1,-4v3l1,5v-4h1v1h1v4l1,-6v1l1,2v-4h1v1l1,1v3l1,1v-2l1,3v-7l1,6v-4l1,3v-2l1,-2v6l1,-1v-2l1,-2v6l1,-9v5l1,-2l1,4l1,-3v3l1,-2v2h1v-1l1,-1l1,-2v3h1v-3l1,3v-3l1,2v-2l1,2v2l1,-2v-4l1,5v-2l1,5v-3h1v-2l1,1v-2l1,2v1l1,-4v2l1,2v-3l1,1v2l1,-1v1h1v1l1,-3l1,2l1,-3v1l1,2v-1l1,1v-1h1v2l1,-6v1l1,3l1,1l1,-1v-2l1,3v-1l1,-3l1,2v2l1,-1v2l1,-3v-1l1,1v1h1v1l1,-1v-2h1v2l1,-1v1l1,-1v-1l1,1h1v1l1,3v-3h1v-4l1,5v-2l1,3v-1l1,3v-6l1,3l1,-2v3l1,-5v3l1,-1v2l1,-5v6l1,1v-5l1,5v-4l1,3l1,-4v5l1,-3v1l1,1l1,-1v1h1v-3l1,2h1v1l1,-2l1,-2v4h1v-1l1,-1v5l1,-4v-2l1,3l1,-3v3l1,-5v3l1,3l1,-1v1l1,-3v1l1,1v-4l1,4l1,1h1l1,-4l1,1v-1l1,3v2l1,-1v-1l1,1v-2l1,1v1l1,-4l1,1v2l1,4v-4h1v1l1,-3v-3l1,2l1,5v-4h1h1l1,1v2l1,-2v-3l1,4v-1l1,-1v1l1,-2v5l1,-2v-1l1,-2v2h1v-1h1v4l1,-5v3h1v-4l1,3v1l1,-2l1,-3v4l1,3v-3h1v-2l1,1v1l1,-4v1l1,2h1l1,2v-2h1v-2l1,-1v3l1,5v-3l1,-5v6l1,-3v-3l1,3v-2l1,1v-1l1,2v-4l1,6v3l1,-5l1,1v-1h1v1l1,1v-2l1,2l1,-1v-2l1,1v-3l1,1v3l1,1v1h1v-4l1,2v-3l1,3v-1l1,2v-1h1v-1l1,1v2l1,-1v-1l1,-3l1,3v1h1v-1l1,-1v-2l1,4l1,1v-5l1,4l1,-3h1v1l1,1l1,-1v3l1,-1v-2l1,1v-1l1,-3v5l1,-2v3l1,-2v2h1v-5l1,6v-4l1,1v-2l1,1v6l1,-5v-6l1,9v-3l1,-1v2h1v-2l1,4v-2l1,1v-2h1l1,-2l1,4v-2l1,1v-1l1,-1l1,3v-3l1,-1v2l1,2v-1l1,-3h1v-2l1,3v2l1,-2v-3h1l1,2v2l1,-4v3l1,1v3l1,-7v3l1,1v-1l1,1v-1h1v-1h1v-3l1,7v-7l1,3l1,-2v-2l1,4v-4l1,5v3l1,-2l1,-8v6l1,-1v-1l1,2v-3l1,2v-2l1,-1v3l1,1v-4l1,5v-4l1,-2v1h1v2h1v-2l1,3v-5l1,3v-1l1,-6v5l1,-2v4l1,-5v3l1,-2v-6l1,6v-1l1,-1v-2l1,4v-6l1,3v-2l1,-2l1,-3v2l1,-2v-3l1,2v-1l1,-2v-5l1,4v-4l1,2v-4l1,-3l1,-2v4l1,-10v-3l1,1v-2l1,-7v-2l1,-1v-1l1,-3v2l1,-7v-6l1,-1v-2l1,-2v-14l1,5v-2l1,1v-8l1,-1v-8l1,6v-2l1,-8l1,2v-4l1,5v-5l1,2v1l1,-1v4l1,7v-4h1v9l1,4v-1l1,-1v3l1,4v4l1,8v1l1,-8v8l1,4v-1h1l1,6v1l1,1v-2l1,-1v14l1,-9v3l1,-2v8l1,-3v2l1,8v-3l1,-1v-5l1,8l1,1v1l1,-2v-3l1,2v5h1l1,4v-2l1,-2v1l1,-5v3l1,5v-7l1,6v2l1,-3v2l1,-3v7l1,-5v-4l1,7v-2l1,8v-4l1,-3v6l1,-5v-2l1,7v1l1,-4v4l1,2v-6l1,-5v9l1,-1l1,3v-2l1,-1v-1h1v2h1v4h1v-2l1,4v-3h1v4l1,-1v-1l1,3v3l1,-7v3l1,-3v4l1,6v-4h1v1l1,-3v3h1v-1l1,4v-2l1,1v-2l1,2v1l1,-1v4l1,-3v1l1,-1l1,2v-3h1v2l1,-1l1,5v-4l1,1v-2l1,1v1l1,4v-4l1,2v-4l1,3v1l1,3v-1l1,-4v6h1l1,-4v6l1,-7v4h1v1h1v-2l1,5v-7l1,2v1l1,3v-1l1,-4v8l1,-5v3l1,2l1,-5v1l1,-3v1l1,5v-4l1,3v-2l1,2l1,2v-3h1v1l1,-3l1,-3v6l1,-1v-1l1,3v-1l1,-2v2h1l1,1v-1l1,1v-2l1,-2v2h1v-2l1,2v1l1,-2v1l1,1v-1l1,3l1,-4v6l1,-5v4l1,-3v3l1,-3v-1l1,-2v2l1,2v-1h1h1v2l1,-2v-2l1,4v-2h1l1,-1l1,-1v4l1,-5v4l1,-4v-1l1,7v-3l1,1v-1h1v2l1,-1v1h1v-3l1,-1l1,5l1,-4v3l1,-4l1,5v-3l1,-2v1l1,4v1l1,-4v4l1,-5v-3l1,4v3l1,-2v-1l1,2v-2l1,1v-2l1,3v-3l1,1v4l1,-3v3l1,-6v3l1,1v1h1v-1l1,1v-2l1,2l1,-1v1l1,-2h1v-2l1,1v2l1,-4v4l1,-2v4l1,-5v2l1,-2v1l1,1v3l1,-2v-1l1,-4v5l1,-3v4h1v-1l1,-6v2l1,1v1h1l1,1v1l1,-2v-2l1,2v1h1v-3l1,3h1v-3l1,4l1,-2v1h1v-3l1,2v1l1,-1l1,-2v-1l1,2v-5l1,7v-3l1,4v-5l1,1v-2h1v3h1v-4l1,4v-2l1,-1v2l1,2v-3l1,-1v2l1,-2v2l1,-2l1,-6v5l1,-2v6l1,-5v2h1l1,-2l1,2v1l1,-1v-1l1,-2v1h1v2l1,-3v-2l1,-1v1h1v3l1,-3v1l1,-4v-2l1,11v-4l1,-4l1,-4v4l1,3v-8h1v1l1,-4v-1h1v-3l1,2v-5l1,1v-1l1,-1v-3l1,-4l1,-1l1,4v-7h1v-4l1,-2v-3l1,-5v-2l1,-4v3l1,3v-11l1,5v1l1,-8l1,-5v-3l1,-2v-2l1,3v-1l1,-4v5l1,-3v-4l1,4v3h1v-7l1,5l1,4v3l1,-13v12l1,-8v8l1,5v1l1,-4l1,9v-4l1,3v-2l1,4l1,7v-3l1,6v-3l1,6v1l1,-2v3l1,4v1l1,-4v2l1,4v5l1,-4v-4l1,1v2l1,2v-5l1,-2v10l1,-1v2l1,-3v3l1,4v-2l1,-2v5l1,-2v4l1,-1v-2h1l1,4v-3l1,2v2l1,-4l1,2v-3l1,4v-3l1,1v-2l1,6v1l1,-3v1h1v2l1,2v1l1,-4v1l1,-4v4l1,1v-5l1,2v-3l1,3l1,-2v-1l1,3v-3l1,6v-3l1,-1v3h1v-3l1,4h1l1,3v-5l1,1v-3l1,4v-3l1,1v1l1,1v-1l1,1v-1l1,-3v8l1,-5v2l1,-4v2l1,2v-2l1,-2v2l1,1v-2l1,-1v5l1,-3v4l1,-4v-4l1,1l1,3v-5l1,7v-5l1,3l1,-4v1l1,2l1,2v-1l1,-2v3l1,-2v1l1,-3v6l1,-3v-1l1,2v1l1,1v-2l1,-3v9l1,-5v4l1,-4l1,5v-5l1,-3v8h1v1l1,-1v-2h1v2l1,1l1,1v2l1,-1v3l1,-4h1v3l1,-2l1,2v-2l1,3v2l1,-2v-1l1,-1v1l1,-1v4h1l1,-1v1l1,-1v-3l1,1v-2l1,4v-1l1,2v-3l1,3v1l1,-2v-1l1,1v2h1v-5l1,7v-2h1v-2l1,4v1l1,-4v1h1l1,-1v4l1,-6l1,4v-1l1,-2v3l1,-3v5h1l1,1v-4l1,1v1l1,3v-2l1,-1v1h1v-3l1,4l1,-3l1,-2v4l1,-1v-1l1,-1v1l1,3v-4l1,4v-1h1l1,-3v8l1,-3v-2h1l1,-5l1,6v-2l1,1v-3l1,2v-1l1,6v-5l1,1v2l1,-2v2h1v-1h1v-3l1,1v-2l1,6v-2l1,3v-3l1,2v-4l1,-1v3h1v2l1,-4l1,1v2l1,-1v-1l1,-1v2l1,2v-2l1,-2v2l1,3l1,-2v2l1,-3l1,5v-6l1,2l1,1v-1l1,4v-1l1,-1v-1l1,1v-4l1,4v-3l1,1v3l1,-1v-3l1,2l1,2v-2l1,-2v4l1,-5v3l1,-1l1,4v-4h1v2l1,-5v2l1,4v-2h1v3l1,-5l1,3v-1l1,1v-2l1,-2v3l1,-2v1l1,-1v3l1,-1v2l1,1v-4h1v1l1,2l1,-2v1l1,1v-1l1,-2v2l1,1v-3l1,2l1,-1l1,1h1v-2l1,1v2l1,-3v1l1,-3v5l1,-6l1,6v1l1,-2v-2l1,2v2h1v-3l1,2v-2l1,2v-1h1l1,-1v3l1,-4l1,2l1,1l1,-2v-1l1,6v-8l1,4l1,-1v4l1,-3v-5l1,6l1,2v-3l1,-2v1h1v-2l1,4h1v1h1v-1l1,-2v5l1,-4v-2l1,3v-3l1,2v2l1,-4v2l1,1v-1h1v-1h1v2l1,-1v1l1,-1v-2l1,3v-3l1,4v-1h1l1,2v-1l1,-4v2l1,3v-4h1v3l1,-3v4l1,-1v-2l1,-1l1,5v-2l1,-1l1,2v-1l1,-2l1,2l1,-1v1l1,-4v6l1,-3v-1l1,-3v4l1,-4v7l1,-8v5l1,-2v3l1,-7v4l1,-2v3h1l1,2v-2l1,-1v2l1,-1l1,1v2l1,-2v1h1l1,-3v4l1,-2v-1l1,1v2l1,-2v1l1,-2v-3l1,2v1h1v2l1,-5v4l1,2v-2l1,-1v2l1,-4v3l1,3v-4l1,1v-1h1v2h1v-4l1,-2v5l1,-2l1,1h1v2l1,-2v1l1,-2l1,1l1,3v-1l1,-1v-1l1,-1v2l1,1l1,-2l1,-1v2h1v1l1,-1v1l1,-3v-1l1,4v-2l1,1v-4l1,3v-1l1,2v-6l1,4l1,-1v-1l1,5v-3h1l1,1l1,1v-6l1,-1v4l1,-2l1,4v-3l1,5v-4l1,-2v1l1,3v-1l1,-1v-2l1,-1v1l1,5v-4l1,-3v-1l1,4v1l1,-1v-3l1,-2v4l1,-3v4l1,-6v3l1,-2v1l1,3v-6h1v4h1v-2l1,3v-3l1,-4v3l1,3v-4h1l1,3v3l1,-4v-2l1,3v-2l1,1v-2l1,2v-3l1,4v-3l1,-1v3l1,-4v-5l1,3v1l1,2v2l1,-4v3l1,-2v-1l1,2v-5l1,3v4l1,-4v4l1,-2v1l1,-3v5l1,-2v-1l1,10v-12l1,5v1l1,2l1,-5v4h1v-1l1,1v-1h1v3l1,-4v4l1,-4v1l1,5v-3l1,-2v2l1,1v-2l1,2v-2l1,-3v7l1,-1v2l1,2v-1l1,-3v-1h1v3l1,-2v-1l1,-1v1h1l1,1v1l1,4v-4h1l1,1l1,1v-5l1,1v2l1,3v-2h1v-3l1,3l1,-3v1l1,3v-2l1,-2v2l1,-1v1l1,2v-3l1,2v-2l1,-3v1l1,3v1l1,1v-6l1,4v-3l1,-2v4l1,-1v4l1,-2v-3l1,1v4l1,-1l1,-3h1v4h1v-3l1,-1v3h1v-5l1,5l1,-2v4l1,-3v1l1,-3v1l1,1v1h1v-2l1,2v-3l1,2v-1h1v2l1,-1v1l1,1v-5l1,5v-2l1,1v-1l1,1v-2h1l1,1v1h1l1,-1v2l1,-2l1,2v-3l1,3v1l1,-2v4l1,-5v-2l1,6v-2l1,1v-1l1,-2v3l1,-4v4l1,-3v3h1l1,-1v2l1,-2v-1l1,2v-3h1v-1l1,4v-2l1,3v-3l1,2v-1l1,-1v2l1,-2v1l1,-2h1v5l1,-3v-3l1,3v-1l1,1v-2l1,2l1,1v-1h1v1l1,2v-3l1,1l1,-2v5l1,-6v-2l1,4v-2l1,1v-2l1,3v-1h1v-1l1,4v-4l1,1h1v1l1,-2v4l1,-2v-2l1,3l1,1v-4l1,-1v2h1v1l1,-3v4l1,-1v-4l1,4v-2h1l1,4v-2l1,-2l1,-2v8l1,-7v4l1,-2v-1l1,2v-2h1v2l1,-3v5l1,-7v5l1,-2v-1l1,-1v1l1,2v-2l1,1v2l1,-3l1,1v-2l1,2v2l1,-5v1l1,3v1l1,-1l1,-2v-1l1,2v-3l1,2v-2l1,3v-2l1,-3v4h1v-2h1l1,-3v5l1,-1v3h1v-3l1,-6v3l1,3v-3l1,3v-1l1,-1v-2l1,3v-1l1,-4v4l1,-4l1,2v4l1,-6v4l1,-7h1v1l1,-1v3l1,1v-4l1,-2v1l1,-1v-2l1,1l1,1v2l1,-4l1,1v2l1,-5v-2l1,2v1l1,-2v1l1,-4l1,-2v2l1,-2l1,-3v2h1v-1h1l1,-1v1h1v-4l1,3v-2l1,1v1l1,-5v-1l1,6v-1l1,4v-3l1,-1v3l1,-1l1,5v-2l1,-2l1,3h1v1l1,1v2l1,3v-8l1,2v1l1,2v1l1,4v-5h1v1l1,1v-4l1,5l1,1v-2h1v5l1,-7v4l1,2l1,-1l1,-1v1l1,1v2l1,-5v-3l1,4v-1l1,3v-1h1v3l1,-6v4h1v-1l1,-1l1,3v-1l1,1v3l1,-3v-2l1,1v-2l1,-1v1l1,1v-3l1,1v-4l1,2l1,5v-2l1,4v-6l1,1l1,-3v1l1,2v-4l1,2v4l1,-6l1,1v-1l1,5v-8h1v5l1,-4l1,5v-8l1,4v-1l1,-2l1,1v2l1,-4v-2l1,3v-2l1,5v-1h1v-4l1,-1v5l1,-3l1,1v1l1,-3v4l1,-6v-1l1,2v4h1v-7l1,8v-4h1v6l1,-3v3l1,-7v5l1,-3v5l1,-1v2l1,3v-2l1,-1v2h1l1,2v1l1,-5v4l1,-1l1,-1v1l1,-1v4l1,-2v1h1h1" transform="translate(0.5,0.5)" fill="none" stroke="#ff00ff" stroke-width="3.0" stroke-linejoin="round" stroke-miterlimit="3" shape-rendering="crispEdges"/>
<text transform="translate(433.56,1157.77) scale(0.5976,0.5860)" font-size="100" class="a">*</text>
<text transform="translate(572.56,1293.82) scale(0.5976,0.5860)" font-size="100" class="a">*</text>
<text transform="translate(940.46,1249.82) scale(0.5976,0.5860)" font-size="100" class="a">*</text>
<text transform="translate(1166.56,1260.82) scale(0.5976,0.5860)" font-size="100" class="a">*</text>
<g mask="url(#hm)"><text transform="translate(466.21,1228.40) scale(0.7140,0.7863)" font-size="100">#</text><text transform="translate(607.21,1334.25) scale(0.7140,0.7863)" font-size="100">#</text><text transform="translate(979.16,1295.35) scale(0.7140,0.7863)" font-size="100">#</text><text transform="translate(1196.16,1300.50) scale(0.7140,0.7863)" font-size="100">#</text></g>
<path d="M244,1718v3l1,1l1,1v-4l1,2v-2l1,-2v1l1,2v-2l1,2v3l1,-1h1v-1l1,-4v6l1,-5v4l1,-1v1l1,1v-2l1,3v-4l1,4v-5l1,6v-3l1,2v3l1,-8v4l1,2v1l1,1v-2h1v-1l1,1h1v2l1,-2v1l1,2l1,-4v1l1,2v-3l1,-2v2l1,3v-2h1v3l1,-4v7l1,-4v-1l1,5v-7l1,2v1l1,-2v1l1,3v-1l1,-1v3l1,2v-1l1,-8v8l1,-1v-1l1,-3v1l1,1v-2l1,5h1v-2l1,-2v5l1,-1v1l1,-4v7l1,-6v5l1,-9v6l1,-1v-5l1,4v-1l1,-1v2l1,-1v3l1,1v-1l1,-2v1l1,5v-4h1v-1l1,3v1h1v-1l1,1v-2l1,2v-4l1,3v1l1,-3v3h1l1,-4h1v1l1,3l1,2v3l1,-6v-3l1,1v-1l1,3l1,4v-6l1,3l1,1v-1l1,6v-5h1v2l1,-1v3l1,-6v2l1,-1v2l1,2v-3l1,-3v4l1,-2v4l1,-1v4l1,-3v-3l1,3v1l1,-2h1h1v-1l1,4v-1l1,-4v5l1,-2v1h1v2l1,-7v4l1,2v-2l1,-3v1l1,3v3l1,-7v3l1,2h1v2l1,-1v-5l1,3v-2l1,3v3l1,-1v2l1,-1v-1l1,1v-5l1,1v2h1h1v-3l1,-1l1,6v-4l1,2v-2h1h1v1l1,1v-4l1,3v-1l1,-1v3l1,2v-7l1,4v1h1v-5l1,4v-2h1v3l1,-4v2l1,2v-3l1,-2v7l1,-6v4l1,-4v2l1,-1v1h1l1,-3v2l1,2v-3l1,-3v5l1,-2v2l1,-2l1,1v1h1v-4h1v1l1,4v-2l1,-2v1l1,4v-5l1,1v2h1l1,-3v2l1,-5v4l1,-1v1l1,3v-3h1v2l1,2v-5l1,3v-2l1,-3v2l1,2l1,-1v-1l1,1h1v-2l1,3v-6l1,6v-2l1,3v-4l1,-3v6l1,1v-6l1,5v-1l1,-2v3l1,-3v4h1v-4h1v1l1,-4v2l1,2v4l1,-2v-2l1,-3v3l1,-1v-3l1,2v-3l1,2v-6l1,9l1,-4v-1h1v-2l1,3v3l1,-3v-1h1l1,-1v-1l1,1l1,-2v1l1,-4v-1l1,-1v4l1,-2l1,-2v1h1v-4l1,1v4l1,1v-5l1,-1v-2l1,-2v3h1v-3l1,-1v-5l1,4v-4l1,-3l1,2v-6l1,-2v1l1,-5v-2l1,2v-4l1,-4l1,-4v-1l1,-3v-4l1,-8l1,-6v-4l1,-6v-4l1,-8v-7l1,-2v-9l1,-8v-5l1,-10v-11l1,-14v-19l1,-19v-12l1,-40v-25l1,-33v-35l1,-30v-32l1,-28v-16l1,-37v-21l1,-13l1,-29v-5l1,-22v-7l1,-24v-10l1,-1v-15l1,-9v3l1,-6v1l1,15v16l1,13v42l1,31v32l1,31v32l1,25v33l1,33v28l1,26v16l1,29v22l1,21v9l1,17v11l1,12v16l1,9v11l1,2v10l1,12v1l1,14l1,12v-5l1,10v2l1,5v2l1,1v6l1,2v2l1,5v3l1,-1v6h1v3l1,2v-2l1,8v-2l1,2v-2l1,2v2l1,-2v3l1,4v-3l1,1v-2l1,4v1h1v2l1,-2v1l1,4l1,-1v4l1,-4l1,1v2l1,4v-5h1v1l1,-1v-1l1,5v1l1,-1v1l1,-2v2h1v-2l1,2v-2l1,2v-1l1,4v-3l1,3v-4l1,4v1l1,-1v-1l1,1v2l1,-1l1,-2v1l1,2v-1l1,3v1l1,-1v-1h1v2l1,-4l1,5l1,-3v2h1v2l1,-1v-3l1,-5v10l1,-2v-3l1,-2v2l1,-1v5l1,-1v-5l1,4v-2l1,2v-3l1,-2l1,3v2l1,1l1,-3v1h1v-1l1,2v-3l1,1h1v2l1,-2v1l1,-1l1,-1v3l1,-4l1,2v-1l1,-1v-1l1,-2v3l1,-2v3l1,-1v-6l1,5v1l1,-2h1l1,-4v3l1,1v-6l1,4v-7l1,5v1l1,-1v-5l1,6v-4l1,1v-6h1v-2l1,2v-1l1,-6v1l1,-1l1,-3v-6l1,-3v1l1,-6v-5l1,-2v-5l1,-2v-5l1,-3v-6l1,-6v-6l1,-6v-6l1,-9v-10l1,-5v-1l1,-15l1,-9v1l1,-6v-6l1,-7v-4l1,-3v7l1,5v3l1,10v13h1v4l1,2v10l1,2v12l1,-1v6l1,7l1,3v8l1,7v5l1,4v3l1,10v6l1,3v-3l1,9v2l1,4v3l1,3v-2l1,4v-1l1,5v4l1,-2v1l1,5v-2l1,-1v4l1,-2v3h1v-1l1,7v-4l1,4v-2l1,3l1,3v-3h1v2l1,-1l1,-2v5l1,-2v-1l1,1v3l1,-5v5l1,-2v3l1,-3v6l1,-5v1l1,-1v4l1,-2v-3l1,4l1,-2v3l1,-2v1l1,1v-2l1,3v-3l1,-1v2l1,2v-1l1,-2v5l1,1v-5l1,5v-3l1,1v3l1,-2l1,-6v5l1,-3v3l1,-1v1l1,2v-2h1l1,2v1l1,3v-6l1,1l1,-1v2l1,-2v-1l1,4v1l1,-2v1l1,-1v-1l1,2v-1l1,-1v3l1,-1v1l1,-1v-1h1v1h1v-1l1,2v-2l1,2l1,-5l1,2v3h1v2l1,-2v-1l1,1v-2l1,4v1l1,-1v-3l1,6v-6h1v3h1v-2h1v2l1,-1l1,-1v-1l1,5v-1l1,-2v3l1,-4v-1l1,6v-2l1,-2h1l1,-2v2l1,3l1,-1l1,-2v2l1,-1v3l1,1v-3l1,-2v5l1,-6l1,4v-2l1,2v-4l1,3v-2l1,1v3l1,-1v1h1v-1l1,-2l1,3v-4l1,5h1v-1l1,3v-5l1,2l1,-3l1,1v-1h1v-2l1,5l1,1v-1l1,-1v2l1,-2v2l1,-3l1,1v-4l1,4v2l1,1v-4h1v4l1,-1v2l1,-1v-1l1,-1v-2h1v1l1,1v-1l1,-4v8l1,-6v3l1,-2v1l1,5v-3l1,-2v3l1,-3v4l1,-3v-1l1,1v-2h1l1,1l1,1v1h1l1,-1v-1l1,2v-2l1,1v-1l1,1v-1l1,1v2l1,-2l1,-1l1,1v-2l1,2v-1h1v3l1,-3v1h1v2l1,-4l1,4h1l1,-2v1l1,2v-1l1,-6l1,6v-1l1,1v1l1,-1v-1l1,-3v3l1,-1v2l1,-2h1v2l1,1v-2l1,3v-1l1,-5l1,2v1l1,-3v4l1,-3v4l1,-2l1,-4v5l1,-3v1l1,1v2l1,-2v-1l1,3v-1h1v1l1,-1l1,1v-4l1,3v2l1,-5v1l1,1v1l1,1v-4l1,4v-2h1l1,-1v2l1,1l1,-2v-1l1,2v-1h1v-1l1,2v-1l1,1v2l1,-5v4l1,-2v2l1,2v-6h1v-1l1,5l1,-2l1,-1v1l1,-4l1,4v-2l1,4v-2l1,-1v3l1,-3v1l1,1v-1l1,-1v2l1,-5v1l1,5v-4l1,6v-2l1,-1v-1l1,1v2l1,-3v1h1v-3l1,2v1l1,-2v-1l1,1l1,2v-5l1,7v-1h1l1,-3v2l1,2l1,-4v3l1,-4v-1l1,4v-4l1,1v3l1,1l1,-4v2l1,-1v5l1,-2v-1l1,-1v-2l1,4v-2h1l1,-3v2l1,1v2l1,1v-3l1,-1v-3l1,2v4h1v-2h1v2l1,-2v2l1,-4l1,1l1,1h1v3l1,-7v5l1,-1l1,-1l1,-1v1l1,4v-1h1v-1l1,-2v4l1,-4v1l1,-1v-1l1,-1v3l1,-2v2l1,3v-4l1,1v1l1,1v1l1,-1v-1l1,-3v3l1,-1l1,-3v3l1,2v-1l1,1l1,-2v-2l1,5v-4l1,4v-5l1,1v3l1,-3l1,3l1,2v-2l1,-1v2l1,-4v3l1,-3v3l1,-1v-3l1,6v-2l1,-2v-1l1,1l1,1v-1l1,1v-2l1,5v-1h1v-3l1,1l1,-2h1l1,1v-1l1,-1v4l1,-2v2l1,-1v2l1,-1v-3l1,2v-1h1v-2l1,2v-1l1,1v1l1,-6v3h1v3h1v-1l1,1v-1l1,1v-3h1v4l1,-3l1,1l1,-3v1l1,3v-2l1,-1v-4l1,2l1,3l1,-2v2l1,-1v-4l1,4v-1l1,-2v3l1,1v-2l1,-1v1l1,-2l1,-1v-1l1,3l1,-1v-1l1,2l1,-5v5l1,-3v-1l1,3v-2l1,-2v3l1,-2v-3l1,2v-1l1,1v-1l1,2v-1l1,-3v4l1,-2l1,-2v2l1,-4v1h1v2l1,1v-4l1,-1v1l1,2v-2h1v-2l1,4v-7l1,2v-1l1,1v2h1v-6h1v-1l1,-1l1,-1v-1l1,3v-3h1v-2l1,-2v-2l1,1v-2l1,-4l1,2v-9l1,3l1,-2v-3l1,-5l1,-2v-2l1,-7v-1l1,1v-11l1,-4v-3l1,-11v2l1,-10v-10l1,-4v-10l1,-8v-17l1,-15v-7l1,-13v-9l1,-8v-21l1,-15v-15l1,-12v-7l1,-11v-9l1,-1v-16l1,-6v-10l1,3v-5l1,9v1l1,7l1,7v5l1,-6v12l1,8l1,2v10l1,10v7l1,9v9l1,11v8l1,21v17l1,10v14l1,5v5l1,7v14l1,9v4l1,11v4l1,3v10l1,6v2l1,7l1,12v6l1,4v4l1,2l1,8v-1l1,2v-3l1,5l1,3v-3l1,6v-4l1,6v-4l1,2v2l1,2v-7l1,10v-4l1,3v5l1,-4v-1l1,6l1,-1v3l1,-2v1l1,-2v2l1,-1v-3l1,8v-5l1,-1v2l1,1v-2l1,1v1h1v1l1,1h1l1,-1l1,-2v2l1,3v-4h1v5l1,-3v1l1,-1v1l1,-1v2l1,1v-3l1,3v-3l1,4l1,-3v1h1v-4l1,3l1,1v-1l1,1v1h1v-1l1,6v-4l1,-2l1,3v-3h1v3l1,-1v-3l1,8l1,-5v-2l1,2v1l1,-1v-1l1,3v-3h1l1,3l1,-2v1l1,1v-2h1v3l1,-4v3l1,-1v2l1,-2l1,-2v3l1,1v-4l1,3v-1l1,-5v4l1,1v-2l1,4v-2h1v4l1,-4v4l1,-3l1,2l1,-5v2l1,-1v1l1,-2v2l1,1v1l1,3v-6l1,2v2l1,1v-2l1,-2v4l1,-3v2h1h1v-2l1,3v-3l1,2v2l1,-3v1l1,1v-2l1,2v-1l1,-3v2h1v3l1,-3v3l1,-1v-1l1,2l1,-4v3l1,-1v-1l1,1v2l1,-1v-3l1,3l1,-1v-3l1,4v-1l1,2v2l1,-6v1h1v-2l1,3v-2l1,4h1v-2h1v1l1,2v-1l1,-2v1l1,-3v2l1,-3v3h1v1l1,1v-2l1,-2l1,1v-1l1,-1l1,2v-1l1,4v-1l1,-2v2h1v-1l1,-1v4h1v-1l1,-2v1l1,4v-6l1,1h1v2h1v-1l1,-1v-1h1v3l1,2v-3h1v-1l1,-1l1,1l1,2v-1l1,-1v-2l1,5l1,-2v-2l1,2l1,1v-2l1,2v-2l1,-1v1l1,1v-1h1v-1l1,-1v-2l1,3v1h1l1,-6v4l1,4v-6l1,4v-1l1,-3l1,5v-4l1,5v-3l1,1v-3l1,1v1l1,2v-5l1,2v1l1,-1l1,4v-7l1,4v-5l1,4v-3l1,3v1l1,2v-3l1,-1v-2l1,-2v2h1l1,1v-3l1,-2v4l1,-5l1,2v1l1,1v-1l1,-1v-2l1,1v-2l1,-3v2l1,3v-2l1,-1v1l1,2v-1l1,-4v3l1,-1l1,-2l1,2v-5l1,4v-3l1,1v-3h1l1,-1v-1l1,1v-2h1v2l1,-6v4l1,-4v2l1,-1v-2l1,-1v-2l1,1v-6l1,-2v1l1,-6v2l1,-3v-4l1,-3v-2l1,-4v-8l1,2v-3l1,-7l1,-8v-3l1,-4l1,-7v-4l1,-7v-15l1,-8v-1l1,-4v-10l1,-10v-12l1,-5v-10l1,-4v-14l1,-8v-5l1,-7v-14l1,10v-10l1,-7v-3l1,-1v-4l1,3v3l1,3v4l1,-1v6l1,12v3l1,3v9l1,5v4l1,17v9l1,9v10l1,9l1,7v7l1,7v8l1,5v5l1,3v8l1,7v2l1,9v6l1,-2v7l1,7v4l1,2v5h1v3l1,4v3l1,2v1l1,4l1,-3v4l1,4v-5l1,5l1,-2v8h1v-5l1,3v-1h1v2l1,-1l1,2v-1l1,1v-1l1,1v3h1v2l1,-1v-2h1v2h1v-1l1,2v-1h1l1,3v2l1,2v-3l1,-1v-3h1v7l1,-8v4h1l1,2v-4h1v1h1v4l1,-7v4h1v-2l1,2l1,-2l1,-2v2l1,-2v-1h1l1,-1v-7l1,4v-3l1,5v-6h1v-3l1,4v-4l1,2v-2l1,-2v1l1,-2v-2l1,-7v4l1,-3v-1l1,2v-5l1,-1v3l1,-1v-3l1,1v1l1,1v-3l1,-2v-2l1,5v-4l1,1l1,2v-1l1,-1v3l1,1v6l1,-6v7l1,-1v-1l1,6v-1l1,-1v3h1v5l1,1v1l1,3v-2l1,1v4l1,2l1,2v1l1,-2v1l1,1v3l1,1v-4l1,-1v3l1,-1v2l1,2v1l1,-4v2l1,3l1,-1v-1l1,4v-4l1,2v2h1v-2h1l1,3v-3l1,1v2l1,-3v2l1,1h1v-3l1,4v-2l1,1v2l1,-4v2l1,2v-5l1,2v1h1v-1l1,-1v1l1,2v-1l1,2v-2l1,-1v5l1,-6v3l1,-2l1,4v-1h1l1,-4v3h1v1l1,-2v3l1,-3v2l1,-2v1h1v-3l1,4v-1l1,1v-1h1v1l1,-1v4l1,-5v2l1,-2v1l1,-1v2l1,-1v3l1,-1v1h1v-2l1,2v-3l1,-1l1,1h1v5l1,-4v-1l1,-2v3l1,2v-5h1v4l1,-2h1v1l1,-1h1v3l1,-4v1l1,4v-1l1,-2l1,2v1l1,-3v1l1,-1v1h1v-2l1,3v-1l1,-3v2l1,1v2l1,-5v3h1l1,-1v1h1v-1l1,2l1,-4v4l1,-1v-1l1,-2v3l1,-3v2l1,2l1,1v-4l1,2v-1l1,-1v1l1,-1l1,1l1,2l1,-2v-1l1,2l1,-1v1l1,3v-4l1,3v-2h1v-2h1v3l1,-3l1,1v5l1,-3v-3h1v2h1l1,-1l1,1v1l1,-1v4l1,-5v2h1v1l1,-2l1,1v2l1,-3l1,1v-2l1,-2v1l1,3l1,-2v3l1,-1l1,-2v3l1,-2v-1l1,2h1l1,1h1v-1l1,1v-3l1,-1v1l1,1v1l1,1v-1l1,-2v1h1v2l1,-1h1v1l1,-4v2l1,-1v1l1,-1v2l1,-1l1,1l1,1v-2l1,2v-1h1v-1l1,1v-1l1,1l1,-2l1,2v-1l1,-1v1h1v-2l1,4v-2l1,3v-3l1,-1v-1l1,3v-1l1,-1v2l1,-2l1,1v-2l1,1v3l1,-3l1,1v1l1,-3v2l1,1v-1l1,-1v3l1,-3l1,3v-4h1h1v2l1,1v-1l1,2l1,-3v4l1,-1v-1l1,1v1l1,-4v2h1v-2l1,5v-3l1,-1h1v2l1,2v-3h1l1,1v-1l1,-3v2h1v-1l1,1v2l1,-1l1,1v-2l1,2v-2l1,1v1l1,-1l1,-2v1l1,2l1,-2v1h1v1h1v1l1,-6v6l1,-1v-4l1,3v-1l1,-1v3l1,-1v-1l1,1v1l1,1v-3l1,2v1l1,-3l1,1l1,-1v1h1v1l1,-2v2l1,-4v2l1,1l1,-1v1l1,-1l1,1l1,-1v-2l1,1v-1l1,2v1l1,-2v1l1,1v-2l1,-1v3l1,-3v2h1l1,-1v2l1,-1v-3l1,3v-3l1,2v-1h1v5l1,-5v-1l1,-1v1h1v2l1,-1v-3l1,4v-4l1,-1v4l1,1v-2l1,-4v5l1,-4l1,3v1l1,-1l1,-3v1l1,-1v2l1,-3v-2l1,2v-2l1,-1v3l1,-2v1l1,-5v3l1,-1v-2l1,-2v3l1,-2v-2l1,2v-1l1,-3v-2h1v1l1,-4l1,2v-4l1,-4h1v-1l1,-7v7l1,-3l1,2v-5l1,2v-1l1,1v-5h1v1l1,1l1,-1v3h1v2l1,-8v3l1,1v7l1,-9v-2l1,8v-1h1v6l1,-3v1l1,-3v5l1,2v4l1,-5v2l1,2v3l1,1v3l1,3v2l1,-3v4l1,1l1,-2v5l1,-5v4l1,2v-1l1,1v-3l1,5v1l1,-3v2l1,-1v-2l1,3l1,2l1,-5v3l1,2l1,-1l1,3l1,-2l1,2v-2l1,-1v5l1,-2v-2l1,2v-3l1,3v-1h1v-1h1v1l1,-1l1,4l1,-2v-1h1v1l1,1v-1h1v1h1v-1h1v1l1,-1v-1l1,1v1l1,-2l1,1v-2l1,2h1l1,1v-2l1,1l1,3v-4h1v3l1,-1v-1l1,-1v1l1,-1v3l1,-3h1v2l1,-3v3l1,-2v2l1,-2v2l1,-1v2l1,-1v1l1,-2v1l1,-2v3l1,-2v-1l1,2v-2l1,3h1v-1l1,1v-4l1,1v2l1,-2v1h1v2l1,-3v1l1,2v-2l1,2v-1h1v1l1,-3l1,-3v5l1,-1v2l1,-2h1v2l1,-3v2l1,-2v3l1,-4v4l1,-2v-1l1,1v-2l1,4v-3l1,3v-2l1,1v-3l1,5l1,-5v2l1,2v-3l1,5v-2l1,-3v-2l1,5l1,-3l1,1v-2l1,2v2l1,-2l1,-2v1l1,-1l1,1v2l1,-1v1l1,-2v4l1,-2v1l1,-4v2l1,-2v4l1,-4v3l1,-2v-1l1,1v-1h1v3l1,-1v-2l1,2v-2l1,-1v2l1,-1v2l1,-2v4l1,-5v1h1l1,2v-1l1,-1l1,1v-2l1,3v-1l1,-1v1h1v-1l1,2v-2h1v2l1,-1l1,-2v2h1v2l1,-2v-2l1,1v1l1,-1h1v-2h1v2l1,-4v6l1,-4l1,4v-4h1l1,3l1,-4v4h1l1,-3v1l1,-2h1h1v-1h1l1,1h1l1,-3v1l1,-2v4l1,-1v-3l1,2l1,1v1l1,-2v-1l1,-3v4l1,-4v2l1,3v-3l1,-1v-2l1,2v-2l1,-3v5l1,-2v-1l1,2v1l1,-4l1,2v-2l1,-1l1,-1v-3l1,3v-4l1,2v-4l1,-2v-4l1,4v-2l1,-3v-3l1,-4l1,-6v3l1,-4v-1l1,-1v-9l1,-2v5l1,-3v-7l1,-4v-4l1,2v-5l1,2l1,-5v1h1v-4l1,-7v4l1,-1h1v6l1,-1v-2l1,1v2l1,4v-5l1,3v3l1,1v4l1,2v-5l1,4v3l1,7v3l1,-7v8l1,3l1,-2v4l1,5v3h1v-4l1,9v1l1,4v-2l1,3v1h1v1l1,5v2l1,-2l1,2h1v4l1,-2v-1l1,2v-1l1,1v-1h1v3l1,-1v1h1v-1l1,4v-3l1,3v-4h1h1v1l1,-1v3l1,-3v2l1,-1v-2h1v-2l1,5v-6l1,6v-4l1,4v-1l1,-1v-2l1,2v-1l1,-1v1l1,-1l1,-3v2h1v-1l1,-2l1,2v-2l1,-3v-3h1v1l1,-4v3h1v-3l1,-1v-4h1v2l1,-5l1,-1v-2l1,2v-5l1,-4v5h1v-6l1,-4v5l1,-6v3l1,-1v-6l1,6v-3l1,-3v7l1,2l1,-2v1h1v1l1,9l1,-5v2h1v3h1v7l1,-2v-3l1,10v-1l1,3v2l1,1v-6l1,5l1,1v5l1,-2h1v1l1,-1l1,4l1,4l1,-1v1l1,-1l1,1v2l1,-6l1,4" transform="translate(0.5,0.5)" fill="none" stroke="#ff0000" stroke-width="3.0" stroke-linejoin="round" stroke-miterlimit="3" shape-rendering="crispEdges"/>
<text transform="translate(446.53,1106.88) scale(0.9010,0.8617)" font-size="100" class="p">+</text>
<text transform="translate(561.07,1577.80) scale(0.7723,0.7386)" font-size="100" class="p">+</text>
<text transform="translate(930.17,1448.80) scale(0.7723,0.7386)" font-size="100" class="p">+</text>
<text transform="translate(1151.97,1519.80) scale(0.7723,0.7386)" font-size="100" class="p">+</text>
<text transform="translate(1229.27,1710.70) scale(0.7723,0.7386)" font-size="100" class="p">+</text>
<text transform="translate(1491.97,1737.00) scale(0.7723,0.7386)" font-size="100" class="p">+</text>
<text transform="translate(1674.17,1701.00) scale(0.7723,0.7386)" font-size="100" class="p">+</text>
<text x="243.5" y="2133.9" font-size="125" text-anchor="middle">20</text>
<text x="499.5" y="2133.9" font-size="125" text-anchor="middle">30</text>
<text x="755.5" y="2133.9" font-size="125" text-anchor="middle">40</text>
<text x="1011.5" y="2133.9" font-size="125" text-anchor="middle">50</text>
<text x="1267.5" y="2133.9" font-size="125" text-anchor="middle">60</text>
<text x="1523.5" y="2133.9" font-size="125" text-anchor="middle">70</text>
<text x="1779.5" y="2133.9" font-size="125" text-anchor="middle">80</text>
<text x="604" y="2319.6" font-size="120.6">Bragg angle, <tspan dx="2.9">°</tspan><tspan dx="-3.2">2</tspan><tspan dx="4.9">θ</tspan></text>
<text transform="translate(123,1244) rotate(-90)" font-size="118.5">Intensity</text>
<text x="357.5" y="145.9" font-size="87.5">ZrO<tspan dy="23.45" font-size="58.62">2</tspan></text>
<text x="838.3" y="153.9" font-size="87.5">(Ce, Zr)O<tspan dy="23.45" font-size="58.62">2</tspan></text>
<text x="1559.6" y="142.9" font-size="87.5">CeO<tspan dy="23.45" font-size="58.62">2</tspan></text>
<text x="1589.97" y="584.3" font-size="87.5">ZrO<tspan dy="23.45" font-size="58.62">2</tspan></text>
<text x="1384.02" y="779.6" font-size="87.5">Ce<tspan dy="23.45" font-size="58.62">0.33</tspan><tspan dy="-23.45" font-size="87.5">Zr</tspan><tspan dy="23.45" font-size="58.62">0.67</tspan></text>
<text x="1309.33" y="1028.5" font-size="87.5">ext.Ce<tspan dy="23.45" font-size="58.62">0.5</tspan><tspan dy="-23.45" font-size="87.5">Zr</tspan><tspan dy="23.45" font-size="58.62">0.5</tspan></text>
<text x="1436.03" y="1221.7" font-size="87.5">Ce<tspan dy="23.45" font-size="58.62">0.5</tspan><tspan dy="-23.45" font-size="87.5">Zr</tspan><tspan dy="23.45" font-size="58.62">0.5</tspan></text>
<text x="1373.42" y="1473.1" font-size="87.5">Ce<tspan dy="23.45" font-size="58.62">0.67</tspan><tspan dy="-23.45" font-size="87.5">Zr</tspan><tspan dy="23.45" font-size="58.62">0.33</tspan></text>
<text x="1568.66" y="1894.8" font-size="87.5">CeO<tspan dy="23.45" font-size="58.62">2</tspan></text>
<g mask="url(#hm)"><text transform="translate(291.99,146.40) scale(0.8387,0.9450)" font-size="100">#</text></g>
<text transform="translate(777.90,139.49) scale(0.7238,0.7380)" font-size="100" class="a">*</text>
<text transform="translate(1487.38,144.12) scale(0.8990,0.8712)" font-size="100" class="p">+</text>
</svg>
</body></html>
